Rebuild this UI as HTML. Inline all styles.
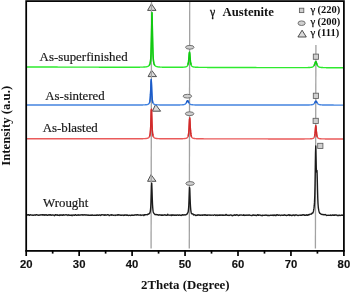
<!DOCTYPE html>
<html><head><meta charset="utf-8"><style>
html,body{margin:0;padding:0;background:#fff;}
body{width:350px;height:293px;overflow:hidden;}
svg{display:block;will-change:transform;}
.mk{fill:#d0d0d0;stroke:#5e5e5e;stroke-width:0.85;}
.tri{fill:#dadada;stroke:#333;}
.tl{font-family:"Liberation Sans",sans-serif;font-weight:bold;font-size:11.3px;text-anchor:middle;fill:#111;stroke:#111;stroke-width:0.15px;}
.lab{font-family:"Liberation Serif",serif;font-size:12.9px;fill:#1a1a1a;stroke:#1a1a1a;stroke-width:0.2px;}
.bt{font-family:"Liberation Serif",serif;font-weight:bold;fill:#111;}
</style></head><body>
<svg width="350" height="293" viewBox="0 0 350 293">
<rect x="0" y="0" width="350" height="293" fill="#fff"/>
<path class="mk tri" d="M151.40,3.80 L156.00,10.40 L147.60,10.40 Z"/><path class="mk tri" d="M151.60,70.20 L156.50,76.60 L148.10,76.60 Z"/><path class="mk tri" d="M155.60,104.40 L160.60,111.20 L152.40,111.20 Z"/><path class="mk tri" d="M151.00,174.60 L156.00,181.30 L147.60,181.30 Z"/>
<g stroke="#a2a2a2" stroke-width="1.3">
<line x1="151.5" y1="2" x2="151.1" y2="248.5"/>
<line x1="189.7" y1="2" x2="189.3" y2="248.5"/>
<line x1="315.9" y1="45" x2="315.4" y2="248.5"/>
</g>
<g fill="none" stroke-linejoin="round">
<polyline points="27.00,67.00 27.25,67.00 27.50,67.00 27.75,67.00 28.00,67.00 28.25,67.00 28.50,67.00 28.75,67.00 29.00,67.00 29.25,67.00 29.50,67.00 29.75,67.01 30.00,67.01 30.25,67.01 30.50,67.01 30.75,67.01 31.00,67.01 31.25,67.01 31.50,67.01 31.75,67.01 32.00,67.01 32.25,67.01 32.50,67.01 32.75,67.01 33.00,67.01 33.25,67.01 33.50,67.01 33.75,67.02 34.00,67.02 34.25,67.02 34.50,67.02 34.75,67.02 35.00,67.02 35.25,67.02 35.50,67.02 35.75,67.02 36.00,67.02 36.25,67.02 36.50,67.02 36.75,67.02 37.00,67.02 37.25,67.02 37.50,67.02 37.75,67.03 38.00,67.03 38.25,67.03 38.50,67.03 38.75,67.03 39.00,67.03 39.25,67.03 39.50,67.03 39.75,67.03 40.00,67.03 40.25,67.03 40.50,67.03 40.75,67.03 41.00,67.03 41.25,67.03 41.50,67.03 41.75,67.04 42.00,67.04 42.25,67.04 42.50,67.04 42.75,67.04 43.00,67.04 43.25,67.04 43.50,67.04 43.75,67.04 44.00,67.04 44.25,67.04 44.50,67.04 44.75,67.04 45.00,67.04 45.25,67.04 45.50,67.04 45.75,67.05 46.00,67.05 46.25,67.05 46.50,67.05 46.75,67.05 47.00,67.05 47.25,67.05 47.50,67.05 47.75,67.05 48.00,67.05 48.25,67.05 48.50,67.05 48.75,67.05 49.00,67.05 49.25,67.05 49.50,67.05 49.75,67.06 50.00,67.06 50.25,67.06 50.50,67.06 50.75,67.06 51.00,67.06 51.25,67.06 51.50,67.06 51.75,67.06 52.00,67.06 52.25,67.06 52.50,67.06 52.75,67.06 53.00,67.06 53.25,67.06 53.50,67.06 53.75,67.07 54.00,67.07 54.25,67.07 54.50,67.07 54.75,67.07 55.00,67.07 55.25,67.07 55.50,67.07 55.75,67.07 56.00,67.07 56.25,67.07 56.50,67.07 56.75,67.07 57.00,67.07 57.25,67.07 57.50,67.07 57.75,67.08 58.00,67.08 58.25,67.08 58.50,67.08 58.75,67.08 59.00,67.08 59.25,67.08 59.50,67.08 59.75,67.08 60.00,67.08 60.25,67.08 60.50,67.08 60.75,67.08 61.00,67.08 61.25,67.08 61.50,67.08 61.75,67.09 62.00,67.09 62.25,67.09 62.50,67.09 62.75,67.09 63.00,67.09 63.25,67.09 63.50,67.09 63.75,67.09 64.00,67.09 64.25,67.09 64.50,67.09 64.75,67.09 65.00,67.09 65.25,67.09 65.50,67.09 65.75,67.10 66.00,67.10 66.25,67.10 66.50,67.10 66.75,67.10 67.00,67.10 67.25,67.10 67.50,67.10 67.75,67.10 68.00,67.10 68.25,67.10 68.50,67.10 68.75,67.10 69.00,67.10 69.25,67.10 69.50,67.10 69.75,67.11 70.00,67.11 70.25,67.11 70.50,67.11 70.75,67.11 71.00,67.11 71.25,67.11 71.50,67.11 71.75,67.11 72.00,67.11 72.25,67.11 72.50,67.11 72.75,67.11 73.00,67.11 73.25,67.11 73.50,67.11 73.75,67.12 74.00,67.12 74.25,67.12 74.50,67.12 74.75,67.12 75.00,67.12 75.25,67.12 75.50,67.12 75.75,67.12 76.00,67.12 76.25,67.12 76.50,67.12 76.75,67.12 77.00,67.12 77.25,67.12 77.50,67.12 77.75,67.12 78.00,67.13 78.25,67.13 78.50,67.13 78.75,67.13 79.00,67.13 79.25,67.13 79.50,67.13 79.75,67.13 80.00,67.13 80.25,67.13 80.50,67.13 80.75,67.13 81.00,67.13 81.25,67.13 81.50,67.13 81.75,67.13 82.00,67.14 82.25,67.14 82.50,67.14 82.75,67.14 83.00,67.14 83.25,67.14 83.50,67.14 83.75,67.14 84.00,67.14 84.25,67.14 84.50,67.14 84.75,67.14 85.00,67.14 85.25,67.14 85.50,67.14 85.75,67.14 86.00,67.14 86.25,67.15 86.50,67.15 86.75,67.15 87.00,67.15 87.25,67.15 87.50,67.15 87.75,67.15 88.00,67.15 88.25,67.15 88.50,67.15 88.75,67.15 89.00,67.15 89.25,67.15 89.50,67.15 89.75,67.15 90.00,67.15 90.25,67.15 90.50,67.16 90.75,67.16 91.00,67.16 91.25,67.16 91.50,67.16 91.75,67.16 92.00,67.16 92.25,67.16 92.50,67.16 92.75,67.16 93.00,67.16 93.25,67.16 93.50,67.16 93.75,67.16 94.00,67.16 94.25,67.16 94.50,67.17 94.75,67.17 95.00,67.17 95.25,67.17 95.50,67.17 95.75,67.17 96.00,67.17 96.25,67.17 96.50,67.17 96.75,67.17 97.00,67.17 97.25,67.17 97.50,67.17 97.75,67.17 98.00,67.17 98.25,67.17 98.50,67.17 98.75,67.17 99.00,67.18 99.25,67.18 99.50,67.18 99.75,67.18 100.00,67.18 100.25,67.18 100.50,67.18 100.75,67.18 101.00,67.18 101.25,67.18 101.50,67.18 101.75,67.18 102.00,67.18 102.25,67.18 102.50,67.18 102.75,67.18 103.00,67.18 103.25,67.19 103.50,67.19 103.75,67.19 104.00,67.19 104.25,67.19 104.50,67.19 104.75,67.19 105.00,67.19 105.25,67.19 105.50,67.19 105.75,67.19 106.00,67.19 106.25,67.19 106.50,67.19 106.75,67.19 107.00,67.19 107.25,67.19 107.50,67.19 107.75,67.19 108.00,67.20 108.25,67.20 108.50,67.20 108.75,67.20 109.00,67.20 109.25,67.20 109.50,67.20 109.75,67.20 110.00,67.20 110.25,67.20 110.50,67.20 110.75,67.20 111.00,67.20 111.25,67.20 111.50,67.20 111.75,67.20 112.00,67.20 112.25,67.20 112.50,67.20 112.75,67.21 113.00,67.21 113.25,67.21 113.50,67.21 113.75,67.21 114.00,67.21 114.25,67.21 114.50,67.21 114.75,67.21 115.00,67.21 115.25,67.21 115.50,67.21 115.75,67.21 116.00,67.21 116.25,67.21 116.50,67.21 116.75,67.21 117.00,67.21 117.25,67.21 117.50,67.21 117.75,67.21 118.00,67.21 118.25,67.22 118.50,67.22 118.75,67.22 119.00,67.22 119.25,67.22 119.50,67.22 119.75,67.22 120.00,67.22 120.25,67.22 120.50,67.22 120.75,67.22 121.00,67.22 121.25,67.22 121.50,67.22 121.75,67.22 122.00,67.22 122.25,67.22 122.50,67.22 122.75,67.22 123.00,67.22 123.25,67.22 123.50,67.22 123.75,67.22 124.00,67.22 124.25,67.22 124.50,67.22 124.75,67.22 125.00,67.22 125.25,67.22 125.50,67.22 125.75,67.22 126.00,67.22 126.25,67.23 126.50,67.23 126.75,67.23 127.00,67.23 127.25,67.23 127.50,67.23 127.75,67.23 128.00,67.23 128.25,67.23 128.50,67.23 128.75,67.23 129.00,67.23 129.25,67.23 129.50,67.23 129.75,67.23 130.00,67.23 130.25,67.23 130.50,67.23 130.75,67.22 131.00,67.22 131.25,67.22 131.50,67.22 131.75,67.22 132.00,67.22 132.25,67.22 132.50,67.22 132.75,67.22 133.00,67.22 133.25,67.22 133.50,67.22 133.75,67.22 134.00,67.22 134.25,67.22 134.50,67.22 134.75,67.22 135.00,67.22 135.25,67.21 135.50,67.21 135.75,67.21 136.00,67.21 136.25,67.21 136.50,67.21 136.75,67.21 137.00,67.20 137.25,67.20 137.50,67.20 137.75,67.20 138.00,67.20 138.25,67.19 138.50,67.19 138.75,67.19 139.00,67.19 139.25,67.18 139.50,67.18 139.75,67.18 140.00,67.17 140.25,67.17 140.50,67.16 140.75,67.16 141.00,67.15 141.25,67.15 141.50,67.14 141.75,67.14 142.00,67.13 142.25,67.12 142.50,67.11 142.75,67.10 143.00,67.09 143.25,67.08 143.50,67.07 143.75,67.06 144.00,67.05 144.25,67.03 144.50,67.01 144.75,66.99 145.00,66.97 145.25,66.95 145.50,66.92 145.75,66.89 146.00,66.86 146.25,66.82 146.50,66.78 146.75,66.73 147.00,66.67 147.25,66.61 147.50,66.53 147.75,66.44 148.00,66.33 148.25,66.20 148.50,66.04 148.75,65.85 149.00,65.60 149.25,65.29 149.50,64.89 149.75,64.36 150.00,63.64 150.25,62.60 150.50,61.01 150.75,58.40 151.00,54.00 151.25,46.63 151.50,35.15 151.75,20.70 152.00,12.69 152.25,20.70 152.50,35.15 152.75,46.63 153.00,54.00 153.25,58.41 153.50,61.01 153.75,62.61 154.00,63.65 154.25,64.37 154.50,64.91 154.75,65.31 155.00,65.62 155.25,65.86 155.50,66.06 155.75,66.22 156.00,66.35 156.25,66.46 156.50,66.55 156.75,66.63 157.00,66.69 157.25,66.75 157.50,66.80 157.75,66.85 158.00,66.89 158.25,66.92 158.50,66.95 158.75,66.98 159.00,67.00 159.25,67.03 159.50,67.05 159.75,67.06 160.00,67.08 160.25,67.10 160.50,67.11 160.75,67.12 161.00,67.13 161.25,67.14 161.50,67.15 161.75,67.16 162.00,67.17 162.25,67.18 162.50,67.19 162.75,67.20 163.00,67.20 163.25,67.21 163.50,67.21 163.75,67.22 164.00,67.22 164.25,67.23 164.50,67.23 164.75,67.24 165.00,67.24 165.25,67.25 165.50,67.25 165.75,67.25 166.00,67.26 166.25,67.26 166.50,67.26 166.75,67.27 167.00,67.27 167.25,67.27 167.50,67.27 167.75,67.28 168.00,67.28 168.25,67.28 168.50,67.28 168.75,67.28 169.00,67.29 169.25,67.29 169.50,67.29 169.75,67.29 170.00,67.29 170.25,67.29 170.50,67.29 170.75,67.30 171.00,67.30 171.25,67.30 171.50,67.30 171.75,67.30 172.00,67.30 172.25,67.30 172.50,67.30 172.75,67.30 173.00,67.30 173.25,67.30 173.50,67.31 173.75,67.31 174.00,67.31 174.25,67.31 174.50,67.31 174.75,67.31 175.00,67.31 175.25,67.31 175.50,67.31 175.75,67.31 176.00,67.31 176.25,67.31 176.50,67.31 176.75,67.30 177.00,67.30 177.25,67.30 177.50,67.30 177.75,67.30 178.00,67.30 178.25,67.30 178.50,67.30 178.75,67.29 179.00,67.29 179.25,67.29 179.50,67.29 179.75,67.28 180.00,67.28 180.25,67.28 180.50,67.27 180.75,67.27 181.00,67.26 181.25,67.26 181.50,67.25 181.75,67.24 182.00,67.24 182.25,67.23 182.50,67.22 182.75,67.21 183.00,67.19 183.25,67.18 183.50,67.16 183.75,67.15 184.00,67.13 184.25,67.10 184.50,67.08 184.75,67.04 185.00,67.01 185.25,66.96 185.50,66.91 185.75,66.85 186.00,66.78 186.25,66.68 186.50,66.57 186.75,66.43 187.00,66.24 187.25,65.99 187.50,65.64 187.75,65.13 188.00,64.38 188.25,63.27 188.50,61.64 188.75,59.35 189.00,56.44 189.25,53.53 189.50,52.19 189.75,53.53 190.00,56.44 190.25,59.36 190.50,61.64 190.75,63.27 191.00,64.39 191.25,65.14 191.50,65.65 191.75,66.00 192.00,66.25 192.25,66.44 192.50,66.59 192.75,66.71 193.00,66.80 193.25,66.87 193.50,66.94 193.75,66.99 194.00,67.04 194.25,67.07 194.50,67.11 194.75,67.14 195.00,67.16 195.25,67.18 195.50,67.20 195.75,67.22 196.00,67.24 196.25,67.25 196.50,67.26 196.75,67.27 197.00,67.28 197.25,67.29 197.50,67.30 197.75,67.31 198.00,67.32 198.25,67.32 198.50,67.33 198.75,67.34 199.00,67.34 199.25,67.35 199.50,67.35 199.75,67.36 200.00,67.36 200.25,67.36 200.50,67.37 200.75,67.37 201.00,67.37 201.25,67.38 201.50,67.38 201.75,67.38 202.00,67.39 202.25,67.39 202.50,67.39 202.75,67.39 203.00,67.40 203.25,67.40 203.50,67.40 203.75,67.40 204.00,67.40 204.25,67.41 204.50,67.41 204.75,67.41 205.00,67.41 205.25,67.41 205.50,67.41 205.75,67.42 206.00,67.42 206.25,67.42 206.50,67.42 206.75,67.42 207.00,67.42 207.25,67.43 207.50,67.43 207.75,67.43 208.00,67.43 208.25,67.43 208.50,67.43 208.75,67.43 209.00,67.43 209.25,67.44 209.50,67.44 209.75,67.44 210.00,67.44 210.25,67.44 210.50,67.44 210.75,67.44 211.00,67.44 211.25,67.44 211.50,67.45 211.75,67.45 212.00,67.45 212.25,67.45 212.50,67.45 212.75,67.45 213.00,67.45 213.25,67.45 213.50,67.45 213.75,67.45 214.00,67.46 214.25,67.46 214.50,67.46 214.75,67.46 215.00,67.46 215.25,67.46 215.50,67.46 215.75,67.46 216.00,67.46 216.25,67.46 216.50,67.46 216.75,67.47 217.00,67.47 217.25,67.47 217.50,67.47 217.75,67.47 218.00,67.47 218.25,67.47 218.50,67.47 218.75,67.47 219.00,67.47 219.25,67.47 219.50,67.47 219.75,67.47 220.00,67.48 220.25,67.48 220.50,67.48 220.75,67.48 221.00,67.48 221.25,67.48 221.50,67.48 221.75,67.48 222.00,67.48 222.25,67.48 222.50,67.48 222.75,67.48 223.00,67.49 223.25,67.49 223.50,67.49 223.75,67.49 224.00,67.49 224.25,67.49 224.50,67.49 224.75,67.49 225.00,67.49 225.25,67.49 225.50,67.49 225.75,67.49 226.00,67.49 226.25,67.49 226.50,67.50 226.75,67.50 227.00,67.50 227.25,67.50 227.50,67.50 227.75,67.50 228.00,67.50 228.25,67.50 228.50,67.50 228.75,67.50 229.00,67.50 229.25,67.50 229.50,67.50 229.75,67.50 230.00,67.51 230.25,67.51 230.50,67.51 230.75,67.51 231.00,67.51 231.25,67.51 231.50,67.51 231.75,67.51 232.00,67.51 232.25,67.51 232.50,67.51 232.75,67.51 233.00,67.51 233.25,67.51 233.50,67.52 233.75,67.52 234.00,67.52 234.25,67.52 234.50,67.52 234.75,67.52 235.00,67.52 235.25,67.52 235.50,67.52 235.75,67.52 236.00,67.52 236.25,67.52 236.50,67.52 236.75,67.52 237.00,67.52 237.25,67.53 237.50,67.53 237.75,67.53 238.00,67.53 238.25,67.53 238.50,67.53 238.75,67.53 239.00,67.53 239.25,67.53 239.50,67.53 239.75,67.53 240.00,67.53 240.25,67.53 240.50,67.53 240.75,67.53 241.00,67.54 241.25,67.54 241.50,67.54 241.75,67.54 242.00,67.54 242.25,67.54 242.50,67.54 242.75,67.54 243.00,67.54 243.25,67.54 243.50,67.54 243.75,67.54 244.00,67.54 244.25,67.54 244.50,67.54 244.75,67.55 245.00,67.55 245.25,67.55 245.50,67.55 245.75,67.55 246.00,67.55 246.25,67.55 246.50,67.55 246.75,67.55 247.00,67.55 247.25,67.55 247.50,67.55 247.75,67.55 248.00,67.55 248.25,67.55 248.50,67.55 248.75,67.56 249.00,67.56 249.25,67.56 249.50,67.56 249.75,67.56 250.00,67.56 250.25,67.56 250.50,67.56 250.75,67.56 251.00,67.56 251.25,67.56 251.50,67.56 251.75,67.56 252.00,67.56 252.25,67.56 252.50,67.57 252.75,67.57 253.00,67.57 253.25,67.57 253.50,67.57 253.75,67.57 254.00,67.57 254.25,67.57 254.50,67.57 254.75,67.57 255.00,67.57 255.25,67.57 255.50,67.57 255.75,67.57 256.00,67.57 256.25,67.57 256.50,67.58 256.75,67.58 257.00,67.58 257.25,67.58 257.50,67.58 257.75,67.58 258.00,67.58 258.25,67.58 258.50,67.58 258.75,67.58 259.00,67.58 259.25,67.58 259.50,67.58 259.75,67.58 260.00,67.58 260.25,67.58 260.50,67.59 260.75,67.59 261.00,67.59 261.25,67.59 261.50,67.59 261.75,67.59 262.00,67.59 262.25,67.59 262.50,67.59 262.75,67.59 263.00,67.59 263.25,67.59 263.50,67.59 263.75,67.59 264.00,67.59 264.25,67.59 264.50,67.60 264.75,67.60 265.00,67.60 265.25,67.60 265.50,67.60 265.75,67.60 266.00,67.60 266.25,67.60 266.50,67.60 266.75,67.60 267.00,67.60 267.25,67.60 267.50,67.60 267.75,67.60 268.00,67.60 268.25,67.60 268.50,67.61 268.75,67.61 269.00,67.61 269.25,67.61 269.50,67.61 269.75,67.61 270.00,67.61 270.25,67.61 270.50,67.61 270.75,67.61 271.00,67.61 271.25,67.61 271.50,67.61 271.75,67.61 272.00,67.61 272.25,67.61 272.50,67.61 272.75,67.62 273.00,67.62 273.25,67.62 273.50,67.62 273.75,67.62 274.00,67.62 274.25,67.62 274.50,67.62 274.75,67.62 275.00,67.62 275.25,67.62 275.50,67.62 275.75,67.62 276.00,67.62 276.25,67.62 276.50,67.62 276.75,67.62 277.00,67.63 277.25,67.63 277.50,67.63 277.75,67.63 278.00,67.63 278.25,67.63 278.50,67.63 278.75,67.63 279.00,67.63 279.25,67.63 279.50,67.63 279.75,67.63 280.00,67.63 280.25,67.63 280.50,67.63 280.75,67.63 281.00,67.63 281.25,67.63 281.50,67.63 281.75,67.64 282.00,67.64 282.25,67.64 282.50,67.64 282.75,67.64 283.00,67.64 283.25,67.64 283.50,67.64 283.75,67.64 284.00,67.64 284.25,67.64 284.50,67.64 284.75,67.64 285.00,67.64 285.25,67.64 285.50,67.64 285.75,67.64 286.00,67.64 286.25,67.64 286.50,67.65 286.75,67.65 287.00,67.65 287.25,67.65 287.50,67.65 287.75,67.65 288.00,67.65 288.25,67.65 288.50,67.65 288.75,67.65 289.00,67.65 289.25,67.65 289.50,67.65 289.75,67.65 290.00,67.65 290.25,67.65 290.50,67.65 290.75,67.65 291.00,67.65 291.25,67.65 291.50,67.65 291.75,67.65 292.00,67.65 292.25,67.65 292.50,67.65 292.75,67.65 293.00,67.65 293.25,67.66 293.50,67.66 293.75,67.66 294.00,67.66 294.25,67.66 294.50,67.66 294.75,67.66 295.00,67.66 295.25,67.66 295.50,67.66 295.75,67.66 296.00,67.66 296.25,67.66 296.50,67.66 296.75,67.66 297.00,67.66 297.25,67.66 297.50,67.66 297.75,67.66 298.00,67.66 298.25,67.66 298.50,67.66 298.75,67.66 299.00,67.66 299.25,67.66 299.50,67.66 299.75,67.66 300.00,67.65 300.25,67.65 300.50,67.65 300.75,67.65 301.00,67.65 301.25,67.65 301.50,67.65 301.75,67.65 302.00,67.65 302.25,67.65 302.50,67.65 302.75,67.65 303.00,67.64 303.25,67.64 303.50,67.64 303.75,67.64 304.00,67.64 304.25,67.64 304.50,67.63 304.75,67.63 305.00,67.63 305.25,67.63 305.50,67.62 305.75,67.62 306.00,67.61 306.25,67.61 306.50,67.61 306.75,67.60 307.00,67.60 307.25,67.59 307.50,67.58 307.75,67.58 308.00,67.57 308.25,67.56 308.50,67.55 308.75,67.54 309.00,67.53 309.25,67.52 309.50,67.50 309.75,67.48 310.00,67.47 310.25,67.44 310.50,67.42 310.75,67.39 311.00,67.36 311.25,67.32 311.50,67.28 311.75,67.23 312.00,67.17 312.25,67.09 312.50,67.00 312.75,66.88 313.00,66.74 313.25,66.55 313.50,66.32 313.75,66.02 314.00,65.64 314.25,65.17 314.50,64.61 314.75,63.95 315.00,63.21 315.25,62.48 315.50,61.89 315.75,61.61 316.00,61.73 316.25,62.22 316.50,62.92 316.75,63.66 317.00,64.36 317.25,64.97 317.50,65.47 317.75,65.89 318.00,66.22 318.25,66.48 318.50,66.68 318.75,66.85 319.00,66.97 319.25,67.08 319.50,67.16 319.75,67.23 320.00,67.28 320.25,67.33 320.50,67.37 320.75,67.41 321.00,67.44 321.25,67.46 321.50,67.49 321.75,67.51 322.00,67.53 322.25,67.54 322.50,67.56 322.75,67.57 323.00,67.58 323.25,67.60 323.50,67.61 323.75,67.61 324.00,67.62 324.25,67.63 324.50,67.64 324.75,67.65 325.00,67.65 325.25,67.66 325.50,67.66 325.75,67.67 326.00,67.67 326.25,67.68 326.50,67.68 326.75,67.69 327.00,67.69 327.25,67.69 327.50,67.70 327.75,67.70 328.00,67.70 328.25,67.71 328.50,67.71 328.75,67.71 329.00,67.71 329.25,67.72 329.50,67.72 329.75,67.72 330.00,67.72 330.25,67.72 330.50,67.73 330.75,67.73 331.00,67.73 331.25,67.73 331.50,67.73 331.75,67.74 332.00,67.74 332.25,67.74 332.50,67.74 332.75,67.74 333.00,67.74 333.25,67.75 333.50,67.75 333.75,67.75 334.00,67.75 334.25,67.75 334.50,67.75 334.75,67.75 335.00,67.76 335.25,67.76 335.50,67.76 335.75,67.76 336.00,67.76 336.25,67.76 336.50,67.76 336.75,67.76 337.00,67.76 337.25,67.77 337.50,67.77 337.75,67.77 338.00,67.77 338.25,67.77 338.50,67.77 338.75,67.77 339.00,67.77 339.25,67.77 339.50,67.77 339.75,67.78 340.00,67.78 340.25,67.78 340.50,67.78 340.75,67.78 341.00,67.78 341.25,67.78 341.50,67.78 341.75,67.78 342.00,67.78 342.25,67.78 342.50,67.79 342.75,67.79 343.00,67.79" stroke="#2eea2e" stroke-width="1.4"/>
<polyline points="27.00,105.00 27.25,105.00 27.50,105.00 27.75,105.00 28.00,105.00 28.25,105.00 28.50,105.00 28.75,105.00 29.00,105.00 29.25,105.00 29.50,105.00 29.75,105.00 30.00,105.00 30.25,105.00 30.50,105.00 30.75,105.00 31.00,105.00 31.25,105.00 31.50,105.00 31.75,105.00 32.00,105.00 32.25,105.00 32.50,105.00 32.75,105.00 33.00,105.00 33.25,105.00 33.50,105.00 33.75,105.00 34.00,105.00 34.25,105.00 34.50,105.00 34.75,105.00 35.00,105.00 35.25,105.00 35.50,105.00 35.75,105.00 36.00,105.00 36.25,105.00 36.50,105.00 36.75,105.00 37.00,105.00 37.25,105.00 37.50,105.00 37.75,105.00 38.00,105.00 38.25,105.00 38.50,105.00 38.75,105.00 39.00,105.00 39.25,105.00 39.50,105.00 39.75,105.00 40.00,105.00 40.25,105.00 40.50,105.00 40.75,105.00 41.00,105.00 41.25,105.00 41.50,105.00 41.75,105.00 42.00,105.00 42.25,105.00 42.50,105.00 42.75,105.00 43.00,105.00 43.25,105.00 43.50,105.00 43.75,105.00 44.00,105.00 44.25,105.00 44.50,105.00 44.75,105.00 45.00,105.00 45.25,105.00 45.50,105.00 45.75,105.00 46.00,105.00 46.25,105.01 46.50,105.01 46.75,105.01 47.00,105.01 47.25,105.01 47.50,105.01 47.75,105.01 48.00,105.01 48.25,105.01 48.50,105.01 48.75,105.01 49.00,105.01 49.25,105.01 49.50,105.01 49.75,105.01 50.00,105.01 50.25,105.01 50.50,105.01 50.75,105.01 51.00,105.01 51.25,105.01 51.50,105.01 51.75,105.01 52.00,105.01 52.25,105.01 52.50,105.01 52.75,105.01 53.00,105.01 53.25,105.01 53.50,105.01 53.75,105.01 54.00,105.01 54.25,105.01 54.50,105.01 54.75,105.01 55.00,105.01 55.25,105.01 55.50,105.01 55.75,105.01 56.00,105.01 56.25,105.01 56.50,105.01 56.75,105.01 57.00,105.01 57.25,105.01 57.50,105.01 57.75,105.01 58.00,105.01 58.25,105.01 58.50,105.01 58.75,105.01 59.00,105.01 59.25,105.01 59.50,105.01 59.75,105.01 60.00,105.01 60.25,105.01 60.50,105.01 60.75,105.01 61.00,105.01 61.25,105.01 61.50,105.01 61.75,105.01 62.00,105.01 62.25,105.01 62.50,105.01 62.75,105.01 63.00,105.01 63.25,105.01 63.50,105.01 63.75,105.01 64.00,105.01 64.25,105.01 64.50,105.01 64.75,105.01 65.00,105.01 65.25,105.01 65.50,105.01 65.75,105.01 66.00,105.01 66.25,105.01 66.50,105.01 66.75,105.01 67.00,105.01 67.25,105.01 67.50,105.01 67.75,105.01 68.00,105.01 68.25,105.01 68.50,105.01 68.75,105.01 69.00,105.01 69.25,105.01 69.50,105.01 69.75,105.01 70.00,105.01 70.25,105.01 70.50,105.01 70.75,105.01 71.00,105.01 71.25,105.01 71.50,105.01 71.75,105.01 72.00,105.01 72.25,105.01 72.50,105.01 72.75,105.01 73.00,105.01 73.25,105.01 73.50,105.01 73.75,105.01 74.00,105.01 74.25,105.01 74.50,105.01 74.75,105.01 75.00,105.01 75.25,105.01 75.50,105.01 75.75,105.01 76.00,105.01 76.25,105.01 76.50,105.01 76.75,105.01 77.00,105.01 77.25,105.01 77.50,105.01 77.75,105.01 78.00,105.01 78.25,105.01 78.50,105.01 78.75,105.01 79.00,105.01 79.25,105.01 79.50,105.01 79.75,105.01 80.00,105.01 80.25,105.01 80.50,105.01 80.75,105.01 81.00,105.01 81.25,105.01 81.50,105.02 81.75,105.02 82.00,105.02 82.25,105.02 82.50,105.02 82.75,105.02 83.00,105.02 83.25,105.02 83.50,105.02 83.75,105.02 84.00,105.02 84.25,105.02 84.50,105.02 84.75,105.02 85.00,105.02 85.25,105.02 85.50,105.02 85.75,105.02 86.00,105.02 86.25,105.02 86.50,105.02 86.75,105.02 87.00,105.02 87.25,105.02 87.50,105.02 87.75,105.02 88.00,105.02 88.25,105.02 88.50,105.02 88.75,105.02 89.00,105.02 89.25,105.02 89.50,105.02 89.75,105.02 90.00,105.02 90.25,105.02 90.50,105.02 90.75,105.02 91.00,105.02 91.25,105.02 91.50,105.02 91.75,105.02 92.00,105.02 92.25,105.02 92.50,105.02 92.75,105.02 93.00,105.02 93.25,105.02 93.50,105.02 93.75,105.02 94.00,105.02 94.25,105.02 94.50,105.02 94.75,105.02 95.00,105.02 95.25,105.02 95.50,105.02 95.75,105.02 96.00,105.02 96.25,105.02 96.50,105.02 96.75,105.02 97.00,105.02 97.25,105.02 97.50,105.02 97.75,105.02 98.00,105.02 98.25,105.02 98.50,105.02 98.75,105.02 99.00,105.02 99.25,105.02 99.50,105.02 99.75,105.02 100.00,105.02 100.25,105.02 100.50,105.02 100.75,105.02 101.00,105.02 101.25,105.02 101.50,105.02 101.75,105.02 102.00,105.02 102.25,105.02 102.50,105.02 102.75,105.02 103.00,105.02 103.25,105.02 103.50,105.02 103.75,105.02 104.00,105.02 104.25,105.02 104.50,105.02 104.75,105.02 105.00,105.02 105.25,105.02 105.50,105.02 105.75,105.02 106.00,105.02 106.25,105.02 106.50,105.02 106.75,105.02 107.00,105.02 107.25,105.02 107.50,105.02 107.75,105.02 108.00,105.02 108.25,105.02 108.50,105.02 108.75,105.02 109.00,105.02 109.25,105.02 109.50,105.02 109.75,105.02 110.00,105.02 110.25,105.02 110.50,105.02 110.75,105.02 111.00,105.02 111.25,105.02 111.50,105.02 111.75,105.02 112.00,105.02 112.25,105.02 112.50,105.02 112.75,105.02 113.00,105.02 113.25,105.02 113.50,105.02 113.75,105.02 114.00,105.02 114.25,105.02 114.50,105.02 114.75,105.02 115.00,105.02 115.25,105.02 115.50,105.02 115.75,105.02 116.00,105.02 116.25,105.02 116.50,105.02 116.75,105.02 117.00,105.02 117.25,105.02 117.50,105.02 117.75,105.02 118.00,105.02 118.25,105.02 118.50,105.02 118.75,105.02 119.00,105.02 119.25,105.02 119.50,105.02 119.75,105.02 120.00,105.02 120.25,105.02 120.50,105.02 120.75,105.02 121.00,105.02 121.25,105.02 121.50,105.02 121.75,105.02 122.00,105.02 122.25,105.02 122.50,105.02 122.75,105.02 123.00,105.02 123.25,105.02 123.50,105.02 123.75,105.02 124.00,105.02 124.25,105.02 124.50,105.02 124.75,105.02 125.00,105.02 125.25,105.02 125.50,105.02 125.75,105.02 126.00,105.02 126.25,105.02 126.50,105.02 126.75,105.02 127.00,105.02 127.25,105.02 127.50,105.02 127.75,105.02 128.00,105.02 128.25,105.02 128.50,105.02 128.75,105.02 129.00,105.02 129.25,105.01 129.50,105.01 129.75,105.01 130.00,105.01 130.25,105.01 130.50,105.01 130.75,105.01 131.00,105.01 131.25,105.01 131.50,105.01 131.75,105.01 132.00,105.01 132.25,105.01 132.50,105.01 132.75,105.01 133.00,105.01 133.25,105.01 133.50,105.01 133.75,105.01 134.00,105.01 134.25,105.01 134.50,105.00 134.75,105.00 135.00,105.00 135.25,105.00 135.50,105.00 135.75,105.00 136.00,105.00 136.25,105.00 136.50,105.00 136.75,105.00 137.00,105.00 137.25,104.99 137.50,104.99 137.75,104.99 138.00,104.99 138.25,104.99 138.50,104.99 138.75,104.98 139.00,104.98 139.25,104.98 139.50,104.98 139.75,104.98 140.00,104.97 140.25,104.97 140.50,104.97 140.75,104.96 141.00,104.96 141.25,104.96 141.50,104.95 141.75,104.95 142.00,104.95 142.25,104.94 142.50,104.94 142.75,104.93 143.00,104.92 143.25,104.92 143.50,104.91 143.75,104.90 144.00,104.89 144.25,104.88 144.50,104.87 144.75,104.86 145.00,104.84 145.25,104.82 145.50,104.81 145.75,104.79 146.00,104.76 146.25,104.73 146.50,104.70 146.75,104.66 147.00,104.62 147.25,104.57 147.50,104.50 147.75,104.42 148.00,104.33 148.25,104.21 148.50,104.06 148.75,103.86 149.00,103.59 149.25,103.23 149.50,102.70 149.75,101.88 150.00,100.52 150.25,98.22 150.50,94.41 150.75,88.62 151.00,81.93 151.25,79.57 151.50,84.48 151.75,91.18 152.00,96.16 152.25,99.29 152.50,101.15 152.75,102.25 153.00,102.94 153.25,103.39 153.50,103.71 153.75,103.94 154.00,104.12 154.25,104.26 154.50,104.37 154.75,104.46 155.00,104.53 155.25,104.59 155.50,104.64 155.75,104.68 156.00,104.72 156.25,104.75 156.50,104.77 156.75,104.79 157.00,104.81 157.25,104.83 157.50,104.85 157.75,104.86 158.00,104.87 158.25,104.88 158.50,104.89 158.75,104.90 159.00,104.91 159.25,104.92 159.50,104.93 159.75,104.93 160.00,104.94 160.25,104.94 160.50,104.95 160.75,104.95 161.00,104.96 161.25,104.96 161.50,104.96 161.75,104.97 162.00,104.97 162.25,104.97 162.50,104.97 162.75,104.98 163.00,104.98 163.25,104.98 163.50,104.98 163.75,104.98 164.00,104.99 164.25,104.99 164.50,104.99 164.75,104.99 165.00,104.99 165.25,104.99 165.50,104.99 165.75,105.00 166.00,105.00 166.25,105.00 166.50,105.00 166.75,105.00 167.00,105.00 167.25,105.00 167.50,105.00 167.75,105.00 168.00,105.00 168.25,105.00 168.50,105.00 168.75,105.00 169.00,105.00 169.25,105.00 169.50,105.00 169.75,105.00 170.00,105.00 170.25,105.00 170.50,105.00 170.75,105.00 171.00,105.00 171.25,105.00 171.50,105.00 171.75,105.00 172.00,105.00 172.25,105.00 172.50,105.00 172.75,105.00 173.00,105.00 173.25,105.00 173.50,105.00 173.75,105.00 174.00,105.00 174.25,105.00 174.50,105.00 174.75,104.99 175.00,104.99 175.25,104.99 175.50,104.99 175.75,104.99 176.00,104.99 176.25,104.99 176.50,104.98 176.75,104.98 177.00,104.98 177.25,104.98 177.50,104.97 177.75,104.97 178.00,104.97 178.25,104.97 178.50,104.96 178.75,104.96 179.00,104.95 179.25,104.95 179.50,104.94 179.75,104.94 180.00,104.93 180.25,104.92 180.50,104.92 180.75,104.91 181.00,104.90 181.25,104.89 181.50,104.88 181.75,104.86 182.00,104.85 182.25,104.83 182.50,104.81 182.75,104.79 183.00,104.76 183.25,104.73 183.50,104.69 183.75,104.65 184.00,104.60 184.25,104.53 184.50,104.45 184.75,104.35 185.00,104.22 185.25,104.06 185.50,103.85 185.75,103.59 186.00,103.26 186.25,102.87 186.50,102.40 186.75,101.87 187.00,101.34 187.25,100.88 187.50,100.62 187.75,100.65 188.00,100.96 188.25,101.44 188.50,101.98 188.75,102.50 189.00,102.96 189.25,103.34 189.50,103.65 189.75,103.90 190.00,104.10 190.25,104.25 190.50,104.38 190.75,104.47 191.00,104.55 191.25,104.61 191.50,104.67 191.75,104.71 192.00,104.74 192.25,104.77 192.50,104.80 192.75,104.82 193.00,104.84 193.25,104.86 193.50,104.87 193.75,104.89 194.00,104.90 194.25,104.91 194.50,104.92 194.75,104.93 195.00,104.94 195.25,104.94 195.50,104.95 195.75,104.96 196.00,104.96 196.25,104.97 196.50,104.97 196.75,104.97 197.00,104.98 197.25,104.98 197.50,104.99 197.75,104.99 198.00,104.99 198.25,104.99 198.50,105.00 198.75,105.00 199.00,105.00 199.25,105.00 199.50,105.01 199.75,105.01 200.00,105.01 200.25,105.01 200.50,105.01 200.75,105.01 201.00,105.02 201.25,105.02 201.50,105.02 201.75,105.02 202.00,105.02 202.25,105.02 202.50,105.02 202.75,105.02 203.00,105.03 203.25,105.03 203.50,105.03 203.75,105.03 204.00,105.03 204.25,105.03 204.50,105.03 204.75,105.03 205.00,105.03 205.25,105.03 205.50,105.03 205.75,105.03 206.00,105.03 206.25,105.04 206.50,105.04 206.75,105.04 207.00,105.04 207.25,105.04 207.50,105.04 207.75,105.04 208.00,105.04 208.25,105.04 208.50,105.04 208.75,105.04 209.00,105.04 209.25,105.04 209.50,105.04 209.75,105.04 210.00,105.04 210.25,105.04 210.50,105.04 210.75,105.04 211.00,105.04 211.25,105.04 211.50,105.04 211.75,105.04 212.00,105.05 212.25,105.05 212.50,105.05 212.75,105.05 213.00,105.05 213.25,105.05 213.50,105.05 213.75,105.05 214.00,105.05 214.25,105.05 214.50,105.05 214.75,105.05 215.00,105.05 215.25,105.05 215.50,105.05 215.75,105.05 216.00,105.05 216.25,105.05 216.50,105.05 216.75,105.05 217.00,105.05 217.25,105.05 217.50,105.05 217.75,105.05 218.00,105.05 218.25,105.05 218.50,105.05 218.75,105.05 219.00,105.05 219.25,105.05 219.50,105.05 219.75,105.05 220.00,105.05 220.25,105.05 220.50,105.05 220.75,105.05 221.00,105.05 221.25,105.05 221.50,105.05 221.75,105.05 222.00,105.05 222.25,105.05 222.50,105.05 222.75,105.05 223.00,105.05 223.25,105.05 223.50,105.06 223.75,105.06 224.00,105.06 224.25,105.06 224.50,105.06 224.75,105.06 225.00,105.06 225.25,105.06 225.50,105.06 225.75,105.06 226.00,105.06 226.25,105.06 226.50,105.06 226.75,105.06 227.00,105.06 227.25,105.06 227.50,105.06 227.75,105.06 228.00,105.06 228.25,105.06 228.50,105.06 228.75,105.06 229.00,105.06 229.25,105.06 229.50,105.06 229.75,105.06 230.00,105.06 230.25,105.06 230.50,105.06 230.75,105.06 231.00,105.06 231.25,105.06 231.50,105.06 231.75,105.06 232.00,105.06 232.25,105.06 232.50,105.06 232.75,105.06 233.00,105.06 233.25,105.06 233.50,105.06 233.75,105.06 234.00,105.06 234.25,105.06 234.50,105.06 234.75,105.06 235.00,105.06 235.25,105.06 235.50,105.06 235.75,105.06 236.00,105.06 236.25,105.06 236.50,105.06 236.75,105.06 237.00,105.06 237.25,105.06 237.50,105.06 237.75,105.06 238.00,105.06 238.25,105.06 238.50,105.06 238.75,105.06 239.00,105.06 239.25,105.06 239.50,105.06 239.75,105.06 240.00,105.06 240.25,105.06 240.50,105.06 240.75,105.06 241.00,105.06 241.25,105.06 241.50,105.06 241.75,105.06 242.00,105.06 242.25,105.06 242.50,105.06 242.75,105.06 243.00,105.06 243.25,105.06 243.50,105.06 243.75,105.06 244.00,105.06 244.25,105.06 244.50,105.06 244.75,105.06 245.00,105.06 245.25,105.06 245.50,105.07 245.75,105.07 246.00,105.07 246.25,105.07 246.50,105.07 246.75,105.07 247.00,105.07 247.25,105.07 247.50,105.07 247.75,105.07 248.00,105.07 248.25,105.07 248.50,105.07 248.75,105.07 249.00,105.07 249.25,105.07 249.50,105.07 249.75,105.07 250.00,105.07 250.25,105.07 250.50,105.07 250.75,105.07 251.00,105.07 251.25,105.07 251.50,105.07 251.75,105.07 252.00,105.07 252.25,105.07 252.50,105.07 252.75,105.07 253.00,105.07 253.25,105.07 253.50,105.07 253.75,105.07 254.00,105.07 254.25,105.07 254.50,105.07 254.75,105.07 255.00,105.07 255.25,105.07 255.50,105.07 255.75,105.07 256.00,105.07 256.25,105.07 256.50,105.07 256.75,105.07 257.00,105.07 257.25,105.07 257.50,105.07 257.75,105.07 258.00,105.07 258.25,105.07 258.50,105.07 258.75,105.07 259.00,105.07 259.25,105.07 259.50,105.07 259.75,105.07 260.00,105.07 260.25,105.07 260.50,105.07 260.75,105.07 261.00,105.07 261.25,105.07 261.50,105.07 261.75,105.07 262.00,105.07 262.25,105.07 262.50,105.07 262.75,105.07 263.00,105.07 263.25,105.07 263.50,105.07 263.75,105.07 264.00,105.07 264.25,105.07 264.50,105.07 264.75,105.07 265.00,105.07 265.25,105.07 265.50,105.07 265.75,105.07 266.00,105.07 266.25,105.07 266.50,105.07 266.75,105.07 267.00,105.07 267.25,105.07 267.50,105.07 267.75,105.07 268.00,105.07 268.25,105.07 268.50,105.07 268.75,105.07 269.00,105.07 269.25,105.07 269.50,105.07 269.75,105.07 270.00,105.07 270.25,105.07 270.50,105.07 270.75,105.07 271.00,105.07 271.25,105.07 271.50,105.07 271.75,105.07 272.00,105.07 272.25,105.07 272.50,105.07 272.75,105.07 273.00,105.07 273.25,105.07 273.50,105.07 273.75,105.07 274.00,105.07 274.25,105.07 274.50,105.07 274.75,105.07 275.00,105.07 275.25,105.07 275.50,105.07 275.75,105.07 276.00,105.07 276.25,105.07 276.50,105.07 276.75,105.07 277.00,105.07 277.25,105.07 277.50,105.07 277.75,105.07 278.00,105.07 278.25,105.07 278.50,105.07 278.75,105.07 279.00,105.07 279.25,105.07 279.50,105.07 279.75,105.07 280.00,105.07 280.25,105.07 280.50,105.07 280.75,105.07 281.00,105.07 281.25,105.07 281.50,105.07 281.75,105.07 282.00,105.07 282.25,105.07 282.50,105.07 282.75,105.07 283.00,105.07 283.25,105.07 283.50,105.07 283.75,105.07 284.00,105.07 284.25,105.07 284.50,105.07 284.75,105.07 285.00,105.07 285.25,105.07 285.50,105.07 285.75,105.07 286.00,105.07 286.25,105.07 286.50,105.07 286.75,105.07 287.00,105.07 287.25,105.07 287.50,105.07 287.75,105.07 288.00,105.07 288.25,105.07 288.50,105.07 288.75,105.07 289.00,105.07 289.25,105.07 289.50,105.07 289.75,105.07 290.00,105.07 290.25,105.07 290.50,105.07 290.75,105.07 291.00,105.07 291.25,105.07 291.50,105.07 291.75,105.07 292.00,105.07 292.25,105.07 292.50,105.07 292.75,105.07 293.00,105.07 293.25,105.07 293.50,105.07 293.75,105.07 294.00,105.07 294.25,105.07 294.50,105.07 294.75,105.07 295.00,105.07 295.25,105.07 295.50,105.07 295.75,105.07 296.00,105.07 296.25,105.07 296.50,105.07 296.75,105.07 297.00,105.07 297.25,105.07 297.50,105.06 297.75,105.06 298.00,105.06 298.25,105.06 298.50,105.06 298.75,105.06 299.00,105.06 299.25,105.06 299.50,105.06 299.75,105.06 300.00,105.06 300.25,105.06 300.50,105.06 300.75,105.06 301.00,105.06 301.25,105.05 301.50,105.05 301.75,105.05 302.00,105.05 302.25,105.05 302.50,105.05 302.75,105.05 303.00,105.05 303.25,105.04 303.50,105.04 303.75,105.04 304.00,105.04 304.25,105.04 304.50,105.04 304.75,105.03 305.00,105.03 305.25,105.03 305.50,105.03 305.75,105.02 306.00,105.02 306.25,105.02 306.50,105.01 306.75,105.01 307.00,105.00 307.25,105.00 307.50,104.99 307.75,104.99 308.00,104.98 308.25,104.98 308.50,104.97 308.75,104.96 309.00,104.95 309.25,104.94 309.50,104.93 309.75,104.92 310.00,104.91 310.25,104.89 310.50,104.87 310.75,104.85 311.00,104.83 311.25,104.80 311.50,104.77 311.75,104.73 312.00,104.69 312.25,104.64 312.50,104.57 312.75,104.49 313.00,104.39 313.25,104.27 313.50,104.11 313.75,103.92 314.00,103.69 314.25,103.40 314.50,103.07 314.75,102.68 315.00,102.26 315.25,101.83 315.50,101.47 315.75,101.24 316.00,101.22 316.25,101.41 316.50,101.75 316.75,102.17 317.00,102.60 317.25,103.00 317.50,103.34 317.75,103.64 318.00,103.88 318.25,104.08 318.50,104.24 318.75,104.37 319.00,104.47 319.25,104.56 319.50,104.63 319.75,104.68 320.00,104.73 320.25,104.77 320.50,104.80 320.75,104.83 321.00,104.85 321.25,104.87 321.50,104.89 321.75,104.91 322.00,104.92 322.25,104.93 322.50,104.94 322.75,104.95 323.00,104.96 323.25,104.97 323.50,104.98 323.75,104.99 324.00,104.99 324.25,105.00 324.50,105.00 324.75,105.01 325.00,105.01 325.25,105.02 325.50,105.02 325.75,105.03 326.00,105.03 326.25,105.03 326.50,105.04 326.75,105.04 327.00,105.04 327.25,105.04 327.50,105.05 327.75,105.05 328.00,105.05 328.25,105.05 328.50,105.05 328.75,105.05 329.00,105.06 329.25,105.06 329.50,105.06 329.75,105.06 330.00,105.06 330.25,105.06 330.50,105.06 330.75,105.07 331.00,105.07 331.25,105.07 331.50,105.07 331.75,105.07 332.00,105.07 332.25,105.07 332.50,105.07 332.75,105.07 333.00,105.07 333.25,105.07 333.50,105.07 333.75,105.08 334.00,105.08 334.25,105.08 334.50,105.08 334.75,105.08 335.00,105.08 335.25,105.08 335.50,105.08 335.75,105.08 336.00,105.08 336.25,105.08 336.50,105.08 336.75,105.08 337.00,105.08 337.25,105.08 337.50,105.08 337.75,105.08 338.00,105.08 338.25,105.08 338.50,105.08 338.75,105.09 339.00,105.09 339.25,105.09 339.50,105.09 339.75,105.09 340.00,105.09 340.25,105.09 340.50,105.09 340.75,105.09 341.00,105.09 341.25,105.09 341.50,105.09 341.75,105.09 342.00,105.09 342.25,105.09 342.50,105.09 342.75,105.09 343.00,105.09" stroke="#4484e0" stroke-width="1.4"/>
<polyline points="27.00,138.70 27.25,138.70 27.50,138.70 27.75,138.70 28.00,138.70 28.25,138.70 28.50,138.70 28.75,138.70 29.00,138.70 29.25,138.70 29.50,138.70 29.75,138.70 30.00,138.70 30.25,138.70 30.50,138.70 30.75,138.70 31.00,138.70 31.25,138.70 31.50,138.70 31.75,138.70 32.00,138.70 32.25,138.70 32.50,138.70 32.75,138.70 33.00,138.70 33.25,138.70 33.50,138.71 33.75,138.71 34.00,138.71 34.25,138.71 34.50,138.71 34.75,138.71 35.00,138.71 35.25,138.71 35.50,138.71 35.75,138.71 36.00,138.71 36.25,138.71 36.50,138.71 36.75,138.71 37.00,138.71 37.25,138.71 37.50,138.71 37.75,138.71 38.00,138.71 38.25,138.71 38.50,138.71 38.75,138.71 39.00,138.71 39.25,138.71 39.50,138.71 39.75,138.71 40.00,138.71 40.25,138.71 40.50,138.71 40.75,138.71 41.00,138.71 41.25,138.71 41.50,138.71 41.75,138.71 42.00,138.71 42.25,138.71 42.50,138.71 42.75,138.71 43.00,138.71 43.25,138.71 43.50,138.71 43.75,138.71 44.00,138.71 44.25,138.72 44.50,138.72 44.75,138.72 45.00,138.72 45.25,138.72 45.50,138.72 45.75,138.72 46.00,138.72 46.25,138.72 46.50,138.72 46.75,138.72 47.00,138.72 47.25,138.72 47.50,138.72 47.75,138.72 48.00,138.72 48.25,138.72 48.50,138.72 48.75,138.72 49.00,138.72 49.25,138.72 49.50,138.72 49.75,138.72 50.00,138.72 50.25,138.72 50.50,138.72 50.75,138.72 51.00,138.72 51.25,138.72 51.50,138.72 51.75,138.72 52.00,138.72 52.25,138.72 52.50,138.72 52.75,138.72 53.00,138.72 53.25,138.72 53.50,138.72 53.75,138.72 54.00,138.72 54.25,138.72 54.50,138.72 54.75,138.72 55.00,138.73 55.25,138.73 55.50,138.73 55.75,138.73 56.00,138.73 56.25,138.73 56.50,138.73 56.75,138.73 57.00,138.73 57.25,138.73 57.50,138.73 57.75,138.73 58.00,138.73 58.25,138.73 58.50,138.73 58.75,138.73 59.00,138.73 59.25,138.73 59.50,138.73 59.75,138.73 60.00,138.73 60.25,138.73 60.50,138.73 60.75,138.73 61.00,138.73 61.25,138.73 61.50,138.73 61.75,138.73 62.00,138.73 62.25,138.73 62.50,138.73 62.75,138.73 63.00,138.73 63.25,138.73 63.50,138.73 63.75,138.73 64.00,138.73 64.25,138.73 64.50,138.73 64.75,138.73 65.00,138.73 65.25,138.73 65.50,138.73 65.75,138.74 66.00,138.74 66.25,138.74 66.50,138.74 66.75,138.74 67.00,138.74 67.25,138.74 67.50,138.74 67.75,138.74 68.00,138.74 68.25,138.74 68.50,138.74 68.75,138.74 69.00,138.74 69.25,138.74 69.50,138.74 69.75,138.74 70.00,138.74 70.25,138.74 70.50,138.74 70.75,138.74 71.00,138.74 71.25,138.74 71.50,138.74 71.75,138.74 72.00,138.74 72.25,138.74 72.50,138.74 72.75,138.74 73.00,138.74 73.25,138.74 73.50,138.74 73.75,138.74 74.00,138.74 74.25,138.74 74.50,138.74 74.75,138.74 75.00,138.74 75.25,138.74 75.50,138.74 75.75,138.74 76.00,138.74 76.25,138.74 76.50,138.74 76.75,138.74 77.00,138.75 77.25,138.75 77.50,138.75 77.75,138.75 78.00,138.75 78.25,138.75 78.50,138.75 78.75,138.75 79.00,138.75 79.25,138.75 79.50,138.75 79.75,138.75 80.00,138.75 80.25,138.75 80.50,138.75 80.75,138.75 81.00,138.75 81.25,138.75 81.50,138.75 81.75,138.75 82.00,138.75 82.25,138.75 82.50,138.75 82.75,138.75 83.00,138.75 83.25,138.75 83.50,138.75 83.75,138.75 84.00,138.75 84.25,138.75 84.50,138.75 84.75,138.75 85.00,138.75 85.25,138.75 85.50,138.75 85.75,138.75 86.00,138.75 86.25,138.75 86.50,138.75 86.75,138.75 87.00,138.75 87.25,138.75 87.50,138.75 87.75,138.75 88.00,138.75 88.25,138.76 88.50,138.76 88.75,138.76 89.00,138.76 89.25,138.76 89.50,138.76 89.75,138.76 90.00,138.76 90.25,138.76 90.50,138.76 90.75,138.76 91.00,138.76 91.25,138.76 91.50,138.76 91.75,138.76 92.00,138.76 92.25,138.76 92.50,138.76 92.75,138.76 93.00,138.76 93.25,138.76 93.50,138.76 93.75,138.76 94.00,138.76 94.25,138.76 94.50,138.76 94.75,138.76 95.00,138.76 95.25,138.76 95.50,138.76 95.75,138.76 96.00,138.76 96.25,138.76 96.50,138.76 96.75,138.76 97.00,138.76 97.25,138.76 97.50,138.76 97.75,138.76 98.00,138.76 98.25,138.76 98.50,138.76 98.75,138.76 99.00,138.76 99.25,138.76 99.50,138.76 99.75,138.76 100.00,138.76 100.25,138.77 100.50,138.77 100.75,138.77 101.00,138.77 101.25,138.77 101.50,138.77 101.75,138.77 102.00,138.77 102.25,138.77 102.50,138.77 102.75,138.77 103.00,138.77 103.25,138.77 103.50,138.77 103.75,138.77 104.00,138.77 104.25,138.77 104.50,138.77 104.75,138.77 105.00,138.77 105.25,138.77 105.50,138.77 105.75,138.77 106.00,138.77 106.25,138.77 106.50,138.77 106.75,138.77 107.00,138.77 107.25,138.77 107.50,138.77 107.75,138.77 108.00,138.77 108.25,138.77 108.50,138.77 108.75,138.77 109.00,138.77 109.25,138.77 109.50,138.77 109.75,138.77 110.00,138.77 110.25,138.77 110.50,138.77 110.75,138.77 111.00,138.77 111.25,138.77 111.50,138.77 111.75,138.77 112.00,138.77 112.25,138.77 112.50,138.77 112.75,138.77 113.00,138.77 113.25,138.77 113.50,138.77 113.75,138.77 114.00,138.77 114.25,138.77 114.50,138.78 114.75,138.78 115.00,138.78 115.25,138.78 115.50,138.78 115.75,138.78 116.00,138.78 116.25,138.78 116.50,138.78 116.75,138.78 117.00,138.78 117.25,138.78 117.50,138.78 117.75,138.78 118.00,138.78 118.25,138.78 118.50,138.78 118.75,138.78 119.00,138.78 119.25,138.78 119.50,138.78 119.75,138.78 120.00,138.78 120.25,138.78 120.50,138.78 120.75,138.78 121.00,138.78 121.25,138.78 121.50,138.78 121.75,138.78 122.00,138.78 122.25,138.78 122.50,138.78 122.75,138.78 123.00,138.78 123.25,138.78 123.50,138.78 123.75,138.78 124.00,138.78 124.25,138.78 124.50,138.78 124.75,138.78 125.00,138.78 125.25,138.78 125.50,138.78 125.75,138.78 126.00,138.78 126.25,138.78 126.50,138.78 126.75,138.78 127.00,138.78 127.25,138.78 127.50,138.78 127.75,138.78 128.00,138.78 128.25,138.78 128.50,138.78 128.75,138.78 129.00,138.78 129.25,138.78 129.50,138.78 129.75,138.78 130.00,138.78 130.25,138.78 130.50,138.78 130.75,138.78 131.00,138.78 131.25,138.77 131.50,138.77 131.75,138.77 132.00,138.77 132.25,138.77 132.50,138.77 132.75,138.77 133.00,138.77 133.25,138.77 133.50,138.77 133.75,138.77 134.00,138.77 134.25,138.77 134.50,138.77 134.75,138.77 135.00,138.77 135.25,138.77 135.50,138.77 135.75,138.76 136.00,138.76 136.25,138.76 136.50,138.76 136.75,138.76 137.00,138.76 137.25,138.76 137.50,138.76 137.75,138.75 138.00,138.75 138.25,138.75 138.50,138.75 138.75,138.75 139.00,138.75 139.25,138.74 139.50,138.74 139.75,138.74 140.00,138.74 140.25,138.73 140.50,138.73 140.75,138.73 141.00,138.72 141.25,138.72 141.50,138.72 141.75,138.71 142.00,138.71 142.25,138.70 142.50,138.69 142.75,138.69 143.00,138.68 143.25,138.67 143.50,138.67 143.75,138.66 144.00,138.65 144.25,138.63 144.50,138.62 144.75,138.61 145.00,138.59 145.25,138.58 145.50,138.56 145.75,138.53 146.00,138.51 146.25,138.48 146.50,138.44 146.75,138.41 147.00,138.36 147.25,138.30 147.50,138.24 147.75,138.16 148.00,138.06 148.25,137.95 148.50,137.80 148.75,137.61 149.00,137.36 149.25,137.02 149.50,136.56 149.75,135.87 150.00,134.80 150.25,133.01 150.50,129.97 150.75,124.99 151.00,117.66 151.25,110.07 151.50,109.11 151.75,116.00 152.00,123.70 152.25,129.15 152.50,132.52 152.75,134.51 153.00,135.70 153.25,136.44 153.50,136.94 153.75,137.30 154.00,137.56 154.25,137.77 154.50,137.92 154.75,138.05 155.00,138.15 155.25,138.23 155.50,138.30 155.75,138.35 156.00,138.40 156.25,138.44 156.50,138.48 156.75,138.51 157.00,138.54 157.25,138.56 157.50,138.58 157.75,138.60 158.00,138.61 158.25,138.63 158.50,138.64 158.75,138.65 159.00,138.66 159.25,138.67 159.50,138.68 159.75,138.69 160.00,138.70 160.25,138.70 160.50,138.71 160.75,138.72 161.00,138.72 161.25,138.73 161.50,138.73 161.75,138.74 162.00,138.74 162.25,138.74 162.50,138.75 162.75,138.75 163.00,138.75 163.25,138.76 163.50,138.76 163.75,138.76 164.00,138.76 164.25,138.76 164.50,138.77 164.75,138.77 165.00,138.77 165.25,138.77 165.50,138.77 165.75,138.78 166.00,138.78 166.25,138.78 166.50,138.78 166.75,138.78 167.00,138.78 167.25,138.78 167.50,138.78 167.75,138.78 168.00,138.79 168.25,138.79 168.50,138.79 168.75,138.79 169.00,138.79 169.25,138.79 169.50,138.79 169.75,138.79 170.00,138.79 170.25,138.79 170.50,138.79 170.75,138.79 171.00,138.79 171.25,138.79 171.50,138.79 171.75,138.79 172.00,138.79 172.25,138.79 172.50,138.79 172.75,138.79 173.00,138.79 173.25,138.79 173.50,138.79 173.75,138.79 174.00,138.79 174.25,138.79 174.50,138.79 174.75,138.79 175.00,138.79 175.25,138.79 175.50,138.79 175.75,138.79 176.00,138.79 176.25,138.79 176.50,138.78 176.75,138.78 177.00,138.78 177.25,138.78 177.50,138.78 177.75,138.78 178.00,138.78 178.25,138.77 178.50,138.77 178.75,138.77 179.00,138.77 179.25,138.76 179.50,138.76 179.75,138.76 180.00,138.75 180.25,138.75 180.50,138.75 180.75,138.74 181.00,138.74 181.25,138.73 181.50,138.72 181.75,138.72 182.00,138.71 182.25,138.70 182.50,138.69 182.75,138.68 183.00,138.67 183.25,138.66 183.50,138.65 183.75,138.63 184.00,138.61 184.25,138.59 184.50,138.57 184.75,138.54 185.00,138.51 185.25,138.47 185.50,138.42 185.75,138.37 186.00,138.31 186.25,138.23 186.50,138.13 186.75,138.02 187.00,137.86 187.25,137.67 187.50,137.40 187.75,137.04 188.00,136.51 188.25,135.68 188.50,134.36 188.75,132.24 189.00,128.96 189.25,124.37 189.50,119.51 189.75,117.91 190.00,121.31 190.25,126.34 190.50,130.43 190.75,133.21 191.00,134.97 191.25,136.06 191.50,136.75 191.75,137.21 192.00,137.53 192.25,137.76 192.50,137.94 192.75,138.07 193.00,138.18 193.25,138.27 193.50,138.34 193.75,138.40 194.00,138.45 194.25,138.50 194.50,138.53 194.75,138.56 195.00,138.59 195.25,138.61 195.50,138.63 195.75,138.65 196.00,138.67 196.25,138.68 196.50,138.69 196.75,138.71 197.00,138.72 197.25,138.73 197.50,138.73 197.75,138.74 198.00,138.75 198.25,138.76 198.50,138.76 198.75,138.77 199.00,138.77 199.25,138.78 199.50,138.78 199.75,138.79 200.00,138.79 200.25,138.79 200.50,138.80 200.75,138.80 201.00,138.80 201.25,138.80 201.50,138.81 201.75,138.81 202.00,138.81 202.25,138.81 202.50,138.82 202.75,138.82 203.00,138.82 203.25,138.82 203.50,138.82 203.75,138.83 204.00,138.83 204.25,138.83 204.50,138.83 204.75,138.83 205.00,138.83 205.25,138.83 205.50,138.84 205.75,138.84 206.00,138.84 206.25,138.84 206.50,138.84 206.75,138.84 207.00,138.84 207.25,138.84 207.50,138.84 207.75,138.85 208.00,138.85 208.25,138.85 208.50,138.85 208.75,138.85 209.00,138.85 209.25,138.85 209.50,138.85 209.75,138.85 210.00,138.85 210.25,138.85 210.50,138.85 210.75,138.85 211.00,138.86 211.25,138.86 211.50,138.86 211.75,138.86 212.00,138.86 212.25,138.86 212.50,138.86 212.75,138.86 213.00,138.86 213.25,138.86 213.50,138.86 213.75,138.86 214.00,138.86 214.25,138.86 214.50,138.86 214.75,138.86 215.00,138.86 215.25,138.86 215.50,138.86 215.75,138.87 216.00,138.87 216.25,138.87 216.50,138.87 216.75,138.87 217.00,138.87 217.25,138.87 217.50,138.87 217.75,138.87 218.00,138.87 218.25,138.87 218.50,138.87 218.75,138.87 219.00,138.87 219.25,138.87 219.50,138.87 219.75,138.87 220.00,138.87 220.25,138.87 220.50,138.87 220.75,138.87 221.00,138.87 221.25,138.87 221.50,138.87 221.75,138.88 222.00,138.88 222.25,138.88 222.50,138.88 222.75,138.88 223.00,138.88 223.25,138.88 223.50,138.88 223.75,138.88 224.00,138.88 224.25,138.88 224.50,138.88 224.75,138.88 225.00,138.88 225.25,138.88 225.50,138.88 225.75,138.88 226.00,138.88 226.25,138.88 226.50,138.88 226.75,138.88 227.00,138.88 227.25,138.88 227.50,138.88 227.75,138.88 228.00,138.88 228.25,138.88 228.50,138.88 228.75,138.88 229.00,138.88 229.25,138.89 229.50,138.89 229.75,138.89 230.00,138.89 230.25,138.89 230.50,138.89 230.75,138.89 231.00,138.89 231.25,138.89 231.50,138.89 231.75,138.89 232.00,138.89 232.25,138.89 232.50,138.89 232.75,138.89 233.00,138.89 233.25,138.89 233.50,138.89 233.75,138.89 234.00,138.89 234.25,138.89 234.50,138.89 234.75,138.89 235.00,138.89 235.25,138.89 235.50,138.89 235.75,138.89 236.00,138.89 236.25,138.89 236.50,138.89 236.75,138.89 237.00,138.89 237.25,138.89 237.50,138.89 237.75,138.89 238.00,138.90 238.25,138.90 238.50,138.90 238.75,138.90 239.00,138.90 239.25,138.90 239.50,138.90 239.75,138.90 240.00,138.90 240.25,138.90 240.50,138.90 240.75,138.90 241.00,138.90 241.25,138.90 241.50,138.90 241.75,138.90 242.00,138.90 242.25,138.90 242.50,138.90 242.75,138.90 243.00,138.90 243.25,138.90 243.50,138.90 243.75,138.90 244.00,138.90 244.25,138.90 244.50,138.90 244.75,138.90 245.00,138.90 245.25,138.90 245.50,138.90 245.75,138.90 246.00,138.90 246.25,138.90 246.50,138.90 246.75,138.90 247.00,138.90 247.25,138.90 247.50,138.91 247.75,138.91 248.00,138.91 248.25,138.91 248.50,138.91 248.75,138.91 249.00,138.91 249.25,138.91 249.50,138.91 249.75,138.91 250.00,138.91 250.25,138.91 250.50,138.91 250.75,138.91 251.00,138.91 251.25,138.91 251.50,138.91 251.75,138.91 252.00,138.91 252.25,138.91 252.50,138.91 252.75,138.91 253.00,138.91 253.25,138.91 253.50,138.91 253.75,138.91 254.00,138.91 254.25,138.91 254.50,138.91 254.75,138.91 255.00,138.91 255.25,138.91 255.50,138.91 255.75,138.91 256.00,138.91 256.25,138.91 256.50,138.91 256.75,138.91 257.00,138.91 257.25,138.91 257.50,138.91 257.75,138.92 258.00,138.92 258.25,138.92 258.50,138.92 258.75,138.92 259.00,138.92 259.25,138.92 259.50,138.92 259.75,138.92 260.00,138.92 260.25,138.92 260.50,138.92 260.75,138.92 261.00,138.92 261.25,138.92 261.50,138.92 261.75,138.92 262.00,138.92 262.25,138.92 262.50,138.92 262.75,138.92 263.00,138.92 263.25,138.92 263.50,138.92 263.75,138.92 264.00,138.92 264.25,138.92 264.50,138.92 264.75,138.92 265.00,138.92 265.25,138.92 265.50,138.92 265.75,138.92 266.00,138.92 266.25,138.92 266.50,138.92 266.75,138.92 267.00,138.92 267.25,138.92 267.50,138.92 267.75,138.92 268.00,138.92 268.25,138.93 268.50,138.93 268.75,138.93 269.00,138.93 269.25,138.93 269.50,138.93 269.75,138.93 270.00,138.93 270.25,138.93 270.50,138.93 270.75,138.93 271.00,138.93 271.25,138.93 271.50,138.93 271.75,138.93 272.00,138.93 272.25,138.93 272.50,138.93 272.75,138.93 273.00,138.93 273.25,138.93 273.50,138.93 273.75,138.93 274.00,138.93 274.25,138.93 274.50,138.93 274.75,138.93 275.00,138.93 275.25,138.93 275.50,138.93 275.75,138.93 276.00,138.93 276.25,138.93 276.50,138.93 276.75,138.93 277.00,138.93 277.25,138.93 277.50,138.93 277.75,138.93 278.00,138.93 278.25,138.93 278.50,138.93 278.75,138.93 279.00,138.93 279.25,138.93 279.50,138.93 279.75,138.93 280.00,138.93 280.25,138.94 280.50,138.94 280.75,138.94 281.00,138.94 281.25,138.94 281.50,138.94 281.75,138.94 282.00,138.94 282.25,138.94 282.50,138.94 282.75,138.94 283.00,138.94 283.25,138.94 283.50,138.94 283.75,138.94 284.00,138.94 284.25,138.94 284.50,138.94 284.75,138.94 285.00,138.94 285.25,138.94 285.50,138.94 285.75,138.94 286.00,138.94 286.25,138.94 286.50,138.94 286.75,138.94 287.00,138.94 287.25,138.94 287.50,138.94 287.75,138.94 288.00,138.94 288.25,138.94 288.50,138.94 288.75,138.94 289.00,138.94 289.25,138.94 289.50,138.94 289.75,138.94 290.00,138.94 290.25,138.94 290.50,138.94 290.75,138.94 291.00,138.94 291.25,138.94 291.50,138.94 291.75,138.94 292.00,138.94 292.25,138.94 292.50,138.94 292.75,138.94 293.00,138.94 293.25,138.94 293.50,138.94 293.75,138.94 294.00,138.94 294.25,138.94 294.50,138.94 294.75,138.94 295.00,138.94 295.25,138.94 295.50,138.94 295.75,138.94 296.00,138.94 296.25,138.94 296.50,138.94 296.75,138.94 297.00,138.94 297.25,138.94 297.50,138.94 297.75,138.94 298.00,138.94 298.25,138.94 298.50,138.94 298.75,138.94 299.00,138.94 299.25,138.94 299.50,138.94 299.75,138.94 300.00,138.94 300.25,138.94 300.50,138.94 300.75,138.94 301.00,138.94 301.25,138.94 301.50,138.94 301.75,138.94 302.00,138.93 302.25,138.93 302.50,138.93 302.75,138.93 303.00,138.93 303.25,138.93 303.50,138.93 303.75,138.93 304.00,138.93 304.25,138.93 304.50,138.93 304.75,138.92 305.00,138.92 305.25,138.92 305.50,138.92 305.75,138.92 306.00,138.91 306.25,138.91 306.50,138.91 306.75,138.91 307.00,138.90 307.25,138.90 307.50,138.90 307.75,138.89 308.00,138.89 308.25,138.88 308.50,138.88 308.75,138.87 309.00,138.86 309.25,138.86 309.50,138.85 309.75,138.84 310.00,138.83 310.25,138.81 310.50,138.80 310.75,138.78 311.00,138.76 311.25,138.74 311.50,138.72 311.75,138.68 312.00,138.65 312.25,138.60 312.50,138.55 312.75,138.48 313.00,138.39 313.25,138.28 313.50,138.13 313.75,137.93 314.00,137.64 314.25,137.20 314.50,136.51 314.75,135.39 315.00,133.63 315.25,131.03 315.50,127.83 315.75,125.67 316.00,126.69 316.25,129.77 316.50,132.69 316.75,134.78 317.00,136.12 317.25,136.96 317.50,137.49 317.75,137.83 318.00,138.06 318.25,138.23 318.50,138.35 318.75,138.45 319.00,138.53 319.25,138.59 319.50,138.64 319.75,138.68 320.00,138.71 320.25,138.74 320.50,138.76 320.75,138.79 321.00,138.80 321.25,138.82 321.50,138.83 321.75,138.85 322.00,138.86 322.25,138.87 322.50,138.87 322.75,138.88 323.00,138.89 323.25,138.89 323.50,138.90 323.75,138.91 324.00,138.91 324.25,138.91 324.50,138.92 324.75,138.92 325.00,138.93 325.25,138.93 325.50,138.93 325.75,138.93 326.00,138.94 326.25,138.94 326.50,138.94 326.75,138.94 327.00,138.95 327.25,138.95 327.50,138.95 327.75,138.95 328.00,138.95 328.25,138.95 328.50,138.96 328.75,138.96 329.00,138.96 329.25,138.96 329.50,138.96 329.75,138.96 330.00,138.96 330.25,138.96 330.50,138.97 330.75,138.97 331.00,138.97 331.25,138.97 331.50,138.97 331.75,138.97 332.00,138.97 332.25,138.97 332.50,138.97 332.75,138.97 333.00,138.97 333.25,138.97 333.50,138.98 333.75,138.98 334.00,138.98 334.25,138.98 334.50,138.98 334.75,138.98 335.00,138.98 335.25,138.98 335.50,138.98 335.75,138.98 336.00,138.98 336.25,138.98 336.50,138.98 336.75,138.98 337.00,138.98 337.25,138.98 337.50,138.98 337.75,138.98 338.00,138.98 338.25,138.99 338.50,138.99 338.75,138.99 339.00,138.99 339.25,138.99 339.50,138.99 339.75,138.99 340.00,138.99 340.25,138.99 340.50,138.99 340.75,138.99 341.00,138.99 341.25,138.99 341.50,138.99 341.75,138.99 342.00,138.99 342.25,138.99 342.50,138.99 342.75,138.99 343.00,138.99" stroke="#ea5a5a" stroke-width="1.4"/>
<polyline points="27.00,214.94 27.25,214.99 27.50,214.68 27.75,214.93 28.00,214.86 28.25,214.69 28.50,214.71 28.75,214.64 29.00,215.26 29.25,215.31 29.50,215.37 29.75,214.95 30.00,214.85 30.25,214.77 30.50,214.76 30.75,214.89 31.00,214.99 31.25,215.14 31.50,215.06 31.75,215.09 32.00,215.16 32.25,215.25 32.50,215.19 32.75,214.99 33.00,214.99 33.25,215.27 33.50,215.26 33.75,215.17 34.00,215.06 34.25,214.99 34.50,214.99 34.75,214.97 35.00,215.14 35.25,215.19 35.50,215.16 35.75,214.77 36.00,214.87 36.25,214.68 36.50,214.82 36.75,214.73 37.00,214.93 37.25,215.07 37.50,214.91 37.75,214.83 38.00,214.88 38.25,215.17 38.50,215.25 38.75,215.28 39.00,215.25 39.25,215.14 39.50,215.01 39.75,214.95 40.00,215.04 40.25,215.12 40.50,214.96 40.75,214.92 41.00,214.66 41.25,214.83 41.50,214.86 41.75,214.96 42.00,214.89 42.25,214.72 42.50,215.00 42.75,214.75 43.00,214.76 43.25,214.75 43.50,215.13 43.75,214.98 44.00,214.84 44.25,214.74 44.50,214.92 44.75,215.17 45.00,214.99 45.25,215.10 45.50,214.80 45.75,215.10 46.00,215.06 46.25,215.13 46.50,214.77 46.75,214.97 47.00,215.10 47.25,215.39 47.50,215.33 47.75,215.28 48.00,215.12 48.25,214.89 48.50,214.76 48.75,214.99 49.00,214.92 49.25,214.94 49.50,214.74 49.75,214.94 50.00,215.08 50.25,214.97 50.50,214.74 50.75,214.67 51.00,214.96 51.25,215.25 51.50,215.28 51.75,215.10 52.00,215.04 52.25,214.99 52.50,215.12 52.75,215.00 53.00,215.04 53.25,214.93 53.50,215.09 53.75,215.10 54.00,215.41 54.25,215.52 54.50,215.67 54.75,215.14 55.00,214.92 55.25,214.68 55.50,214.98 55.75,214.75 56.00,214.96 56.25,215.02 56.50,215.14 56.75,214.88 57.00,214.67 57.25,214.82 57.50,215.01 57.75,215.35 58.00,215.32 58.25,215.33 58.50,215.11 58.75,215.34 59.00,215.34 59.25,215.48 59.50,215.15 59.75,215.04 60.00,214.79 60.25,215.09 60.50,215.19 60.75,215.25 61.00,215.02 61.25,215.00 61.50,214.95 61.75,214.90 62.00,214.90 62.25,215.27 62.50,215.35 62.75,215.23 63.00,214.80 63.25,214.68 63.50,214.80 63.75,215.04 64.00,215.19 64.25,215.17 64.50,215.09 64.75,215.10 65.00,214.89 65.25,214.82 65.50,214.82 65.75,214.90 66.00,214.90 66.25,214.79 66.50,214.85 66.75,215.00 67.00,215.05 67.25,215.07 67.50,215.07 67.75,215.19 68.00,215.40 68.25,215.07 68.50,215.09 68.75,214.84 69.00,215.10 69.25,215.09 69.50,215.28 69.75,215.38 70.00,215.30 70.25,215.37 70.50,215.21 70.75,215.18 71.00,215.08 71.25,215.05 71.50,215.32 71.75,215.35 72.00,215.67 72.25,215.41 72.50,215.25 72.75,215.01 73.00,215.10 73.25,215.08 73.50,215.10 73.75,215.02 74.00,215.27 74.25,215.15 74.50,215.28 74.75,215.01 75.00,214.98 75.25,214.77 75.50,214.71 75.75,214.84 76.00,215.04 76.25,215.20 76.50,215.26 76.75,215.33 77.00,215.34 77.25,215.29 77.50,215.07 77.75,214.85 78.00,214.91 78.25,214.74 78.50,215.01 78.75,214.92 79.00,215.25 79.25,215.17 79.50,215.07 79.75,214.98 80.00,214.93 80.25,215.00 80.50,214.97 80.75,215.02 81.00,215.02 81.25,214.91 81.50,214.91 81.75,214.68 82.00,214.76 82.25,214.64 82.50,215.02 82.75,215.19 83.00,215.10 83.25,214.99 83.50,214.82 83.75,214.93 84.00,214.98 84.25,214.94 84.50,214.85 84.75,214.76 85.00,214.80 85.25,215.02 85.50,214.90 85.75,214.99 86.00,215.07 86.25,215.08 86.50,214.93 86.75,214.83 87.00,214.90 87.25,215.18 87.50,215.22 87.75,215.16 88.00,214.87 88.25,214.84 88.50,215.22 88.75,215.30 89.00,215.32 89.25,215.11 89.50,215.13 89.75,215.38 90.00,215.26 90.25,215.35 90.50,215.10 90.75,215.23 91.00,215.01 91.25,215.20 91.50,215.11 91.75,215.25 92.00,214.94 92.25,214.87 92.50,214.93 92.75,215.15 93.00,215.33 93.25,215.40 93.50,215.37 93.75,215.29 94.00,215.24 94.25,215.23 94.50,215.21 94.75,215.20 95.00,215.28 95.25,215.32 95.50,215.20 95.75,215.13 96.00,215.33 96.25,215.34 96.50,215.25 96.75,215.01 97.00,215.18 97.25,214.97 97.50,215.03 97.75,215.03 98.00,215.15 98.25,215.28 98.50,215.20 98.75,215.24 99.00,215.09 99.25,214.84 99.50,214.84 99.75,215.03 100.00,215.11 100.25,215.39 100.50,215.17 100.75,215.39 101.00,215.18 101.25,214.92 101.50,214.74 101.75,214.76 102.00,214.89 102.25,214.80 102.50,214.82 102.75,214.88 103.00,214.84 103.25,214.71 103.50,214.89 103.75,215.03 104.00,215.22 104.25,215.30 104.50,215.36 104.75,215.12 105.00,214.79 105.25,214.78 105.50,215.02 105.75,215.20 106.00,215.27 106.25,215.11 106.50,215.12 106.75,215.00 107.00,215.01 107.25,214.83 107.50,214.70 107.75,214.68 108.00,214.70 108.25,214.77 108.50,214.91 108.75,215.02 109.00,215.48 109.25,215.51 109.50,215.45 109.75,215.20 110.00,215.13 110.25,215.12 110.50,215.16 110.75,215.03 111.00,214.75 111.25,214.72 111.50,214.74 111.75,215.27 112.00,215.10 112.25,215.03 112.50,215.04 112.75,214.99 113.00,215.15 113.25,215.14 113.50,215.28 113.75,215.25 114.00,215.09 114.25,215.17 114.50,215.09 114.75,215.15 115.00,215.12 115.25,215.49 115.50,215.37 115.75,215.20 116.00,215.01 116.25,215.01 116.50,215.15 116.75,215.08 117.00,215.26 117.25,215.15 117.50,215.12 117.75,214.69 118.00,214.66 118.25,214.85 118.50,215.07 118.75,215.09 119.00,214.77 119.25,214.92 119.50,215.02 119.75,215.03 120.00,215.04 120.25,215.05 120.50,215.27 120.75,215.12 121.00,215.29 121.25,215.25 121.50,215.31 121.75,215.05 122.00,214.97 122.25,215.09 122.50,215.12 122.75,215.27 123.00,215.24 123.25,215.43 123.50,215.40 123.75,215.32 124.00,214.94 124.25,214.88 124.50,214.98 124.75,215.22 125.00,215.25 125.25,215.11 125.50,215.04 125.75,214.87 126.00,215.08 126.25,215.14 126.50,215.20 126.75,214.88 127.00,214.85 127.25,215.07 127.50,215.28 127.75,215.21 128.00,215.21 128.25,215.33 128.50,215.52 128.75,215.45 129.00,215.42 129.25,215.37 129.50,215.36 129.75,215.14 130.00,215.25 130.25,215.19 130.50,215.51 130.75,215.10 131.00,215.15 131.25,215.03 131.50,215.23 131.75,215.20 132.00,215.17 132.25,215.28 132.50,215.16 132.75,215.06 133.00,215.11 133.25,215.32 133.50,215.35 133.75,215.24 134.00,215.11 134.25,215.22 134.50,215.09 134.75,214.91 135.00,214.80 135.25,214.79 135.50,214.88 135.75,214.88 136.00,215.06 136.25,215.00 136.50,215.08 136.75,214.82 137.00,215.01 137.25,214.73 137.50,214.79 137.75,214.80 138.00,214.93 138.25,214.98 138.50,214.86 138.75,214.96 139.00,215.04 139.25,215.09 139.50,215.15 139.75,215.07 140.00,215.02 140.25,214.83 140.50,215.05 140.75,215.22 141.00,215.42 141.25,215.28 141.50,215.14 141.75,215.09 142.00,215.04 142.25,215.15 142.50,215.13 142.75,215.09 143.00,214.98 143.25,214.87 143.50,215.15 143.75,215.45 144.00,215.44 144.25,215.23 144.50,214.65 144.75,214.67 145.00,214.66 145.25,214.78 145.50,214.83 145.75,214.63 146.00,214.71 146.25,214.61 146.50,214.61 146.75,214.70 147.00,214.77 147.25,214.71 147.50,214.39 147.75,214.27 148.00,214.35 148.25,214.27 148.50,214.05 148.75,213.89 149.00,213.82 149.25,213.70 149.50,213.43 149.75,213.20 150.00,212.60 150.25,211.60 150.50,209.83 150.75,206.94 151.00,202.17 151.25,194.65 151.50,186.21 151.75,183.18 152.00,189.66 152.25,197.96 152.50,204.25 152.75,208.03 153.00,210.55 153.25,211.89 153.50,212.67 153.75,213.08 154.00,213.41 154.25,213.75 154.50,213.94 154.75,214.19 155.00,214.54 155.25,214.60 155.50,214.66 155.75,214.49 156.00,214.68 156.25,214.59 156.50,214.57 156.75,214.53 157.00,214.76 157.25,214.87 157.50,214.84 157.75,214.70 158.00,214.78 158.25,215.03 158.50,215.18 158.75,215.16 159.00,215.05 159.25,214.92 159.50,214.87 159.75,214.79 160.00,214.95 160.25,214.99 160.50,214.88 160.75,214.99 161.00,215.20 161.25,215.31 161.50,215.23 161.75,215.07 162.00,215.20 162.25,214.98 162.50,215.14 162.75,215.00 163.00,215.32 163.25,215.15 163.50,215.16 163.75,215.00 164.00,215.10 164.25,215.04 164.50,215.02 164.75,214.86 165.00,214.76 165.25,214.96 165.50,215.09 165.75,215.29 166.00,215.27 166.25,215.09 166.50,215.09 166.75,215.16 167.00,215.38 167.25,215.13 167.50,214.54 167.75,214.31 168.00,214.69 168.25,215.03 168.50,215.12 168.75,215.07 169.00,215.03 169.25,215.08 169.50,215.10 169.75,215.26 170.00,215.28 170.25,215.12 170.50,215.12 170.75,215.03 171.00,215.25 171.25,215.49 171.50,215.45 171.75,215.05 172.00,214.70 172.25,214.83 172.50,215.20 172.75,215.38 173.00,215.24 173.25,215.03 173.50,215.05 173.75,215.01 174.00,215.23 174.25,215.06 174.50,215.28 174.75,215.23 175.00,215.35 175.25,215.35 175.50,215.15 175.75,215.10 176.00,215.00 176.25,215.15 176.50,215.26 176.75,215.22 177.00,215.10 177.25,214.87 177.50,214.87 177.75,215.04 178.00,215.02 178.25,215.19 178.50,215.14 178.75,215.20 179.00,214.91 179.25,214.90 179.50,215.01 179.75,214.95 180.00,215.06 180.25,215.16 180.50,215.41 180.75,215.32 181.00,215.40 181.25,215.50 181.50,215.33 181.75,215.04 182.00,214.87 182.25,214.95 182.50,214.66 182.75,214.76 183.00,214.69 183.25,214.97 183.50,214.85 183.75,215.01 184.00,214.93 184.25,214.83 184.50,214.76 184.75,214.93 185.00,214.95 185.25,215.00 185.50,214.82 185.75,214.73 186.00,214.67 186.25,214.46 186.50,214.52 186.75,214.14 187.00,214.11 187.25,213.60 187.50,213.23 187.75,212.85 188.00,212.33 188.25,211.34 188.50,209.33 188.75,206.27 189.00,201.09 189.25,193.93 189.50,187.53 189.75,188.48 190.00,195.50 190.25,202.25 190.50,206.91 190.75,209.76 191.00,211.61 191.25,212.73 191.50,213.53 191.75,213.76 192.00,213.89 192.25,213.81 192.50,213.95 192.75,213.90 193.00,214.11 193.25,214.33 193.50,214.84 193.75,215.08 194.00,214.94 194.25,214.85 194.50,214.68 194.75,214.91 195.00,214.87 195.25,215.08 195.50,215.31 195.75,215.45 196.00,215.64 196.25,215.37 196.50,215.24 196.75,215.13 197.00,215.33 197.25,215.31 197.50,215.17 197.75,214.81 198.00,214.86 198.25,214.96 198.50,215.12 198.75,215.09 199.00,214.82 199.25,214.88 199.50,215.05 199.75,215.28 200.00,215.28 200.25,215.04 200.50,215.18 200.75,215.14 201.00,215.28 201.25,215.16 201.50,214.92 201.75,214.93 202.00,214.83 202.25,215.13 202.50,215.30 202.75,215.37 203.00,215.11 203.25,214.92 203.50,214.89 203.75,215.12 204.00,215.01 204.25,214.80 204.50,214.85 204.75,215.04 205.00,215.23 205.25,214.97 205.50,215.13 205.75,214.80 206.00,214.96 206.25,215.00 206.50,215.32 206.75,215.39 207.00,215.01 207.25,215.19 207.50,215.01 207.75,215.18 208.00,215.04 208.25,215.07 208.50,215.14 208.75,214.96 209.00,215.00 209.25,214.90 209.50,215.02 209.75,215.15 210.00,215.26 210.25,215.28 210.50,215.16 210.75,214.99 211.00,214.99 211.25,215.14 211.50,215.18 211.75,215.27 212.00,215.17 212.25,215.09 212.50,215.15 212.75,215.04 213.00,215.14 213.25,215.21 213.50,215.20 213.75,215.20 214.00,214.84 214.25,214.91 214.50,214.74 214.75,214.88 215.00,214.88 215.25,215.07 215.50,215.30 215.75,215.40 216.00,215.46 216.25,215.27 216.50,215.21 216.75,215.03 217.00,214.83 217.25,214.87 217.50,215.15 217.75,215.42 218.00,215.35 218.25,215.35 218.50,215.25 218.75,215.24 219.00,214.90 219.25,214.84 219.50,214.89 219.75,215.26 220.00,215.35 220.25,215.26 220.50,214.95 220.75,214.95 221.00,214.87 221.25,214.96 221.50,215.07 221.75,215.31 222.00,215.36 222.25,215.13 222.50,214.89 222.75,214.97 223.00,215.25 223.25,215.27 223.50,215.15 223.75,215.02 224.00,215.27 224.25,215.27 224.50,215.20 224.75,215.16 225.00,215.16 225.25,215.21 225.50,214.97 225.75,214.61 226.00,214.52 226.25,214.55 226.50,214.92 226.75,215.10 227.00,215.32 227.25,215.25 227.50,215.18 227.75,215.28 228.00,215.24 228.25,215.34 228.50,215.29 228.75,215.40 229.00,215.46 229.25,215.30 229.50,215.38 229.75,215.10 230.00,215.09 230.25,214.86 230.50,215.02 230.75,215.00 231.00,215.13 231.25,214.95 231.50,215.18 231.75,215.39 232.00,215.55 232.25,215.62 232.50,215.47 232.75,215.70 233.00,215.52 233.25,215.27 233.50,215.19 233.75,215.16 234.00,215.23 234.25,214.97 234.50,214.80 234.75,214.90 235.00,214.85 235.25,215.22 235.50,215.31 235.75,215.25 236.00,214.90 236.25,214.75 236.50,214.72 236.75,214.89 237.00,214.95 237.25,215.08 237.50,215.03 237.75,215.09 238.00,215.35 238.25,215.59 238.50,215.54 238.75,215.47 239.00,215.21 239.25,215.25 239.50,215.04 239.75,215.21 240.00,215.02 240.25,215.02 240.50,214.94 240.75,215.14 241.00,215.09 241.25,215.03 241.50,214.98 241.75,215.17 242.00,215.14 242.25,215.14 242.50,215.08 242.75,215.34 243.00,215.39 243.25,215.27 243.50,214.85 243.75,214.80 244.00,215.09 244.25,215.37 244.50,215.46 244.75,215.26 245.00,215.08 245.25,215.07 245.50,215.14 245.75,215.38 246.00,215.13 246.25,215.14 246.50,214.99 246.75,215.24 247.00,215.15 247.25,215.16 247.50,214.99 247.75,215.21 248.00,215.28 248.25,215.26 248.50,215.00 248.75,214.87 249.00,215.13 249.25,215.04 249.50,215.06 249.75,214.97 250.00,215.31 250.25,215.40 250.50,215.41 250.75,215.37 251.00,215.50 251.25,215.41 251.50,215.52 251.75,215.43 252.00,215.60 252.25,215.28 252.50,215.37 252.75,215.05 253.00,215.00 253.25,214.95 253.50,215.00 253.75,215.23 254.00,215.05 254.25,215.33 254.50,215.28 254.75,215.27 255.00,215.11 255.25,215.21 255.50,215.25 255.75,215.30 256.00,215.43 256.25,215.62 256.50,215.56 256.75,215.26 257.00,215.22 257.25,215.05 257.50,214.76 257.75,214.62 258.00,214.67 258.25,215.23 258.50,215.32 258.75,215.33 259.00,214.99 259.25,215.04 259.50,215.06 259.75,215.12 260.00,215.06 260.25,215.16 260.50,215.24 260.75,215.27 261.00,215.41 261.25,215.60 261.50,215.39 261.75,215.54 262.00,215.36 262.25,215.70 262.50,215.31 262.75,215.33 263.00,215.21 263.25,215.31 263.50,215.38 263.75,215.42 264.00,215.29 264.25,215.18 264.50,215.19 264.75,215.39 265.00,215.36 265.25,215.25 265.50,215.15 265.75,215.06 266.00,214.94 266.25,215.14 266.50,215.23 266.75,215.39 267.00,215.12 267.25,215.32 267.50,215.51 267.75,215.57 268.00,215.48 268.25,215.19 268.50,215.42 268.75,215.47 269.00,215.46 269.25,215.40 269.50,215.33 269.75,215.48 270.00,215.37 270.25,215.25 270.50,215.14 270.75,215.17 271.00,215.25 271.25,215.20 271.50,215.36 271.75,215.34 272.00,215.39 272.25,215.07 272.50,215.17 272.75,215.35 273.00,215.46 273.25,215.48 273.50,215.20 273.75,215.12 274.00,214.97 274.25,215.14 274.50,215.24 274.75,215.06 275.00,215.42 275.25,215.27 275.50,215.54 275.75,215.27 276.00,215.47 276.25,215.46 276.50,215.03 276.75,214.80 277.00,214.86 277.25,215.09 277.50,215.09 277.75,214.73 278.00,214.98 278.25,215.16 278.50,215.33 278.75,215.17 279.00,215.10 279.25,215.07 279.50,215.06 279.75,215.10 280.00,215.29 280.25,215.47 280.50,215.44 280.75,215.32 281.00,215.22 281.25,215.14 281.50,215.05 281.75,215.14 282.00,215.17 282.25,215.33 282.50,215.27 282.75,215.18 283.00,215.24 283.25,215.22 283.50,215.34 283.75,215.31 284.00,215.17 284.25,214.92 284.50,214.84 284.75,214.82 285.00,215.18 285.25,215.25 285.50,215.29 285.75,215.19 286.00,215.32 286.25,215.51 286.50,215.55 286.75,215.44 287.00,215.28 287.25,215.22 287.50,215.24 287.75,215.26 288.00,215.31 288.25,215.11 288.50,214.93 288.75,214.69 289.00,214.77 289.25,215.12 289.50,215.45 289.75,215.39 290.00,215.05 290.25,215.01 290.50,215.18 290.75,215.20 291.00,215.23 291.25,215.19 291.50,215.51 291.75,215.42 292.00,215.50 292.25,215.39 292.50,215.23 292.75,215.10 293.00,214.99 293.25,215.19 293.50,215.10 293.75,215.00 294.00,214.98 294.25,215.23 294.50,215.58 294.75,215.62 295.00,215.31 295.25,215.06 295.50,214.87 295.75,215.04 296.00,214.87 296.25,214.93 296.50,214.96 296.75,215.10 297.00,215.12 297.25,215.22 297.50,215.33 297.75,215.44 298.00,215.42 298.25,215.46 298.50,215.38 298.75,215.21 299.00,215.31 299.25,215.21 299.50,215.17 299.75,215.10 300.00,215.07 300.25,215.20 300.50,215.23 300.75,215.32 301.00,215.28 301.25,215.26 301.50,215.34 301.75,215.14 302.00,214.88 302.25,214.94 302.50,215.16 302.75,215.06 303.00,214.74 303.25,214.69 303.50,214.82 303.75,215.02 304.00,215.02 304.25,215.18 304.50,214.98 304.75,215.04 305.00,215.20 305.25,215.23 305.50,215.30 305.75,215.18 306.00,215.33 306.25,215.16 306.50,214.89 306.75,214.70 307.00,214.78 307.25,215.01 307.50,215.23 307.75,215.23 308.00,215.20 308.25,214.97 308.50,214.69 308.75,214.57 309.00,214.64 309.25,214.75 309.50,214.50 309.75,214.33 310.00,214.09 310.25,214.22 310.50,214.08 310.75,214.14 311.00,214.06 311.25,214.08 311.50,214.12 311.75,213.79 312.00,213.32 312.25,213.04 312.50,213.04 312.75,213.10 313.00,212.57 313.25,211.89 313.50,210.98 313.75,209.76 314.00,208.15 314.25,205.94 314.50,202.38 314.75,196.58 315.00,186.35 315.25,171.23 315.50,153.38 315.75,145.90 316.00,155.25 316.25,166.93 316.50,171.95 316.75,170.76 317.00,170.45 317.25,178.52 317.50,189.32 317.75,197.92 318.00,203.43 318.25,206.82 318.50,208.79 318.75,210.18 319.00,211.37 319.25,212.10 319.50,212.66 319.75,213.16 320.00,213.40 320.25,213.46 320.50,213.55 320.75,213.88 321.00,214.16 321.25,214.20 321.50,214.22 321.75,214.39 322.00,214.40 322.25,214.61 322.50,214.47 322.75,214.47 323.00,214.44 323.25,214.57 323.50,214.79 323.75,214.81 324.00,214.83 324.25,214.80 324.50,214.77 324.75,214.68 325.00,214.55 325.25,214.53 325.50,214.68 325.75,214.84 326.00,215.06 326.25,215.19 326.50,215.40 326.75,215.46 327.00,215.39 327.25,215.38 327.50,215.38 327.75,215.36 328.00,215.21 328.25,215.21 328.50,215.30 328.75,215.39 329.00,215.32 329.25,215.38 329.50,215.23 329.75,215.23 330.00,215.12 330.25,215.24 330.50,215.00 330.75,215.09 331.00,215.16 331.25,215.43 331.50,215.39 331.75,215.31 332.00,215.15 332.25,215.06 332.50,214.96 332.75,215.04 333.00,215.26 333.25,215.20 333.50,215.34 333.75,215.04 334.00,215.06 334.25,214.94 334.50,215.26 334.75,215.28 335.00,215.04 335.25,214.96 335.50,215.03 335.75,215.15 336.00,214.98 336.25,214.91 336.50,215.05 336.75,215.25 337.00,215.16 337.25,215.42 337.50,215.34 337.75,215.47 338.00,215.28 338.25,215.30 338.50,215.62 338.75,215.67 339.00,215.61 339.25,215.30 339.50,215.11 339.75,215.12 340.00,215.24 340.25,215.23 340.50,215.46 340.75,215.37 341.00,215.43 341.25,215.35 341.50,215.13 341.75,215.04 342.00,215.00 342.25,215.23 342.50,215.34 342.75,215.32 343.00,215.31" stroke="#1c1c1c" stroke-width="1.4"/>
<polyline points="149.25,65.29 149.50,64.89 149.75,64.36 150.00,63.64 150.25,62.60 150.50,61.01 150.75,58.40 151.00,54.00 151.25,46.63 151.50,35.15 151.75,20.70 152.00,12.69 152.25,20.70 152.50,35.15 152.75,46.63 153.00,54.00 153.25,58.41 153.50,61.01 153.75,62.61 154.00,63.65 154.25,64.37 154.50,64.91 154.75,65.31" stroke="#12c812" stroke-width="1.4"/><polyline points="187.75,65.13 188.00,64.38 188.25,63.27 188.50,61.64 188.75,59.35 189.00,56.44 189.25,53.53 189.50,52.19 189.75,53.53 190.00,56.44 190.25,59.36 190.50,61.64 190.75,63.27 191.00,64.39 191.25,65.14" stroke="#12c812" stroke-width="1.4"/><polyline points="314.00,65.64 314.25,65.17 314.50,64.61 314.75,63.95 315.00,63.21 315.25,62.48 315.50,61.89 315.75,61.61 316.00,61.73 316.25,62.22 316.50,62.92 316.75,63.66 317.00,64.36 317.25,64.97 317.50,65.47" stroke="#12c812" stroke-width="1.4"/>
<polyline points="149.50,102.70 149.75,101.88 150.00,100.52 150.25,98.22 150.50,94.41 150.75,88.62 151.00,81.93 151.25,79.57 151.50,84.48 151.75,91.18 152.00,96.16 152.25,99.29 152.50,101.15 152.75,102.25 153.00,102.94" stroke="#1d5cc8" stroke-width="1.4"/><polyline points="186.25,102.87 186.50,102.40 186.75,101.87 187.00,101.34 187.25,100.88 187.50,100.62 187.75,100.65 188.00,100.96 188.25,101.44 188.50,101.98 188.75,102.50 189.00,102.96" stroke="#1d5cc8" stroke-width="1.4"/><polyline points="314.50,103.07 314.75,102.68 315.00,102.26 315.25,101.83 315.50,101.47 315.75,101.24 316.00,101.22 316.25,101.41 316.50,101.75 316.75,102.17 317.00,102.60 317.25,103.00" stroke="#1d5cc8" stroke-width="1.4"/>
<polyline points="149.50,136.56 149.75,135.87 150.00,134.80 150.25,133.01 150.50,129.97 150.75,124.99 151.00,117.66 151.25,110.07 151.50,109.11 151.75,116.00 152.00,123.70 152.25,129.15 152.50,132.52 152.75,134.51 153.00,135.70 153.25,136.44" stroke="#d02a2a" stroke-width="1.4"/><polyline points="188.00,136.51 188.25,135.68 188.50,134.36 188.75,132.24 189.00,128.96 189.25,124.37 189.50,119.51 189.75,117.91 190.00,121.31 190.25,126.34 190.50,130.43 190.75,133.21 191.00,134.97 191.25,136.06 191.50,136.75" stroke="#d02a2a" stroke-width="1.4"/><polyline points="314.50,136.51 314.75,135.39 315.00,133.63 315.25,131.03 315.50,127.83 315.75,125.67 316.00,126.69 316.25,129.77 316.50,132.69 316.75,134.78 317.00,136.12 317.25,136.96" stroke="#d02a2a" stroke-width="1.4"/>
</g>
<ellipse class="mk" cx="189.8" cy="47.3" rx="4.25" ry="1.9"/><rect class="mk" x="313.30" y="54.10" width="5.2" height="5.2"/><ellipse class="mk" cx="187.4" cy="96.2" rx="4.25" ry="1.9"/><rect class="mk" x="313.30" y="93.20" width="5.2" height="5.2"/><ellipse class="mk" cx="189.6" cy="113.7" rx="4.25" ry="1.9"/><rect class="mk" x="313.10" y="118.30" width="5.2" height="5.2"/><ellipse class="mk" cx="190.1" cy="183.5" rx="4.25" ry="1.9"/><rect class="mk" x="317.70" y="143.30" width="5.2" height="5.2"/><rect class="mk" x="299.40" y="8.20" width="4.4" height="4.4"/><ellipse class="mk" cx="301.6" cy="23.2" rx="3.6" ry="2.3"/><path class="mk tri" d="M302.10,30.20 L306.30,37.00 L297.90,37.00 Z"/>
<rect x="26.2" y="1.1" width="317.7" height="249.8" fill="none" stroke="#000" stroke-width="1.75"/>
<g stroke="#000" stroke-width="1.7"><line x1="26.20" y1="250" x2="26.20" y2="256" /><line x1="52.67" y1="250" x2="52.67" y2="253.6" /><line x1="79.15" y1="250" x2="79.15" y2="256" /><line x1="105.62" y1="250" x2="105.62" y2="253.6" /><line x1="132.10" y1="250" x2="132.10" y2="256" /><line x1="158.57" y1="250" x2="158.57" y2="253.6" /><line x1="185.05" y1="250" x2="185.05" y2="256" /><line x1="211.52" y1="250" x2="211.52" y2="253.6" /><line x1="238.00" y1="250" x2="238.00" y2="256" /><line x1="264.48" y1="250" x2="264.48" y2="253.6" /><line x1="290.95" y1="250" x2="290.95" y2="256" /><line x1="317.43" y1="250" x2="317.43" y2="253.6" /><line x1="343.90" y1="250" x2="343.90" y2="256" /></g>
<text x="26.20" y="268.3" class="tl">20</text><text x="79.15" y="268.3" class="tl">30</text><text x="132.10" y="268.3" class="tl">40</text><text x="185.05" y="268.3" class="tl">50</text><text x="238.00" y="268.3" class="tl">60</text><text x="290.95" y="268.3" class="tl">70</text><text x="343.90" y="268.3" class="tl">80</text>
<text class="lab" x="39.6" y="61.4">As-superfinished</text>
<text class="lab" x="45.3" y="100">As-sintered</text>
<text class="lab" x="42.7" y="132.4">As-blasted</text>
<text class="lab" x="43" y="207.4">Wrought</text>
<text class="bt" x="141" y="289" font-size="12.85">2Theta (Degree)</text>
<text class="bt" transform="translate(10.3,165.8) rotate(-90)" font-size="12.8">Intensity (a.u.)</text>
<text x="210" y="15.6" font-size="11.8" font-family="Liberation Serif" fill="#111" stroke="#111" stroke-width="0.3">γ</text>
<text class="bt" x="222.5" y="15.6" font-size="12.7">Austenite</text>
<g font-family="Liberation Serif" font-size="10.8" fill="#111" stroke="#111" stroke-width="0.25">
<text x="310.4" y="12.9">γ</text><text x="310.4" y="24.7">γ</text><text x="310.4" y="36.2">γ</text></g>
<text class="bt" x="317.6" y="12.6" font-size="10.5">(220)</text>
<text class="bt" x="317.6" y="24.5" font-size="10.5">(200)</text>
<text class="bt" x="317.6" y="36.0" font-size="10.5">(111)</text>
</svg>
</body></html>
